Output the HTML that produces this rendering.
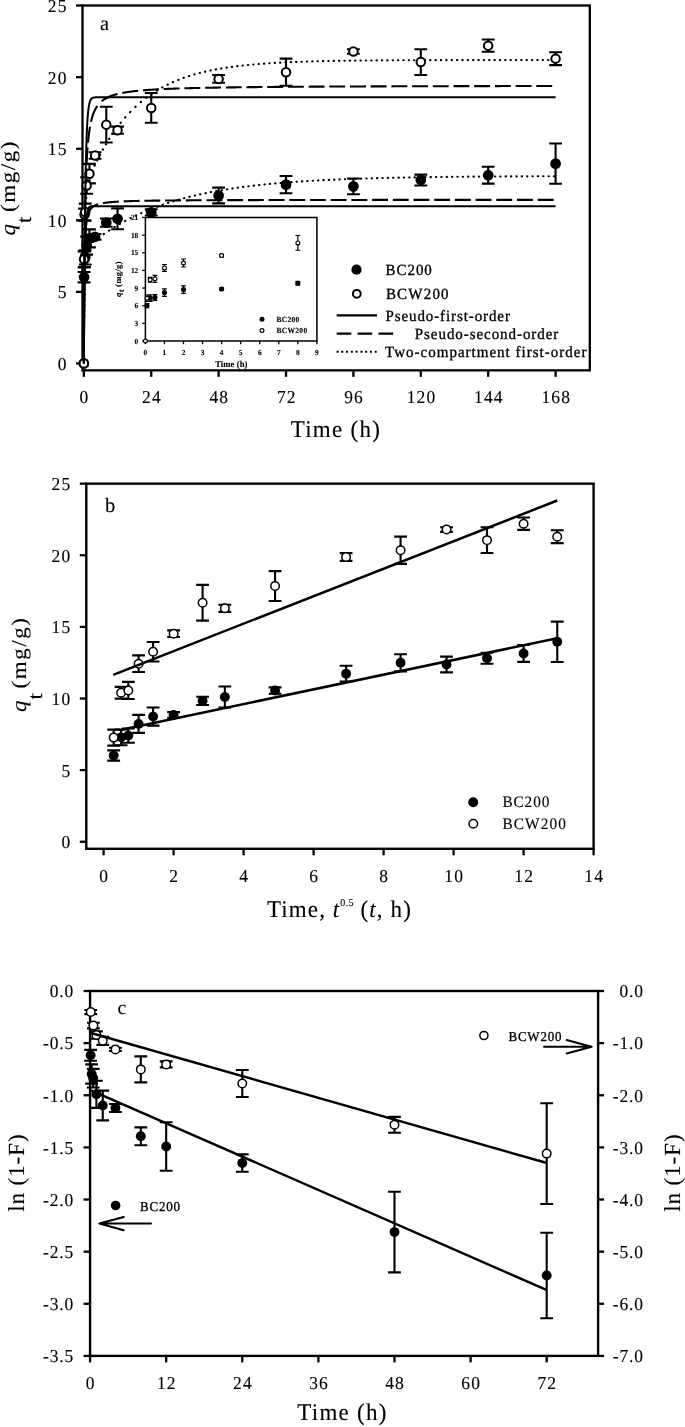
<!DOCTYPE html>
<html lang="en">
<head>
<meta charset="utf-8">
<title>Sorption kinetics of BC200 and BCW200</title>
<style>
html,body{margin:0;padding:0;background:#fff;}
body{width:685px;height:1427px;overflow:hidden;}
svg{display:block;will-change:transform;font-family:"Liberation Serif","Times New Roman",Times,serif;}
svg text{fill:#000;stroke:#000;stroke-width:0.12px;stroke-linejoin:round;}
#inset text{stroke-width:0.1px;}
svg text.hv{stroke-width:0.32px;}
</style>
</head>
<body>
<svg width="685" height="1427" viewBox="0 0 685 1427" stroke="#000" stroke-linecap="butt" text-rendering="geometricPrecision">
<rect x="0" y="0" width="685" height="1427" fill="#fff" stroke="none"/>
<g id="panel-a">
<rect x="82.5" y="5.5" width="507.3" height="364.85" fill="none" stroke-width="2.3"/>
<line x1="76" y1="363.4" x2="82.5" y2="363.4" stroke-width="2.3" />
<text transform="translate(67.5 369.8) scale(1 1.04)" font-size="17.5" text-anchor="end" letter-spacing="1.1" >0</text>
<line x1="76" y1="291.85" x2="82.5" y2="291.85" stroke-width="2.3" />
<text transform="translate(67.5 298.25) scale(1 1.04)" font-size="17.5" text-anchor="end" letter-spacing="1.1" >5</text>
<line x1="76" y1="220.3" x2="82.5" y2="220.3" stroke-width="2.3" />
<text transform="translate(67.5 226.7) scale(1 1.04)" font-size="17.5" text-anchor="end" letter-spacing="1.1" >10</text>
<line x1="76" y1="148.75" x2="82.5" y2="148.75" stroke-width="2.3" />
<text transform="translate(67.5 155.15) scale(1 1.04)" font-size="17.5" text-anchor="end" letter-spacing="1.1" >15</text>
<line x1="76" y1="77.2" x2="82.5" y2="77.2" stroke-width="2.3" />
<text transform="translate(67.5 83.6) scale(1 1.04)" font-size="17.5" text-anchor="end" letter-spacing="1.1" >20</text>
<line x1="76" y1="5.5" x2="82.5" y2="5.5" stroke-width="2.3" />
<text transform="translate(67.5 11.9) scale(1 1.04)" font-size="17.5" text-anchor="end" letter-spacing="1.1" >25</text>
<line x1="83.84" y1="370.35" x2="83.84" y2="376.85" stroke-width="2.3" />
<text transform="translate(84.54 403.3) scale(1 1.04)" font-size="17.5" text-anchor="middle" letter-spacing="1.1" >0</text>
<line x1="151.23" y1="370.35" x2="151.23" y2="376.85" stroke-width="2.3" />
<text transform="translate(151.93 403.3) scale(1 1.04)" font-size="17.5" text-anchor="middle" letter-spacing="1.1" >24</text>
<line x1="218.62" y1="370.35" x2="218.62" y2="376.85" stroke-width="2.3" />
<text transform="translate(219.32 403.3) scale(1 1.04)" font-size="17.5" text-anchor="middle" letter-spacing="1.1" >48</text>
<line x1="286.02" y1="370.35" x2="286.02" y2="376.85" stroke-width="2.3" />
<text transform="translate(286.72 403.3) scale(1 1.04)" font-size="17.5" text-anchor="middle" letter-spacing="1.1" >72</text>
<line x1="353.41" y1="370.35" x2="353.41" y2="376.85" stroke-width="2.3" />
<text transform="translate(354.11 403.3) scale(1 1.04)" font-size="17.5" text-anchor="middle" letter-spacing="1.1" >96</text>
<line x1="420.8" y1="370.35" x2="420.8" y2="376.85" stroke-width="2.3" />
<text transform="translate(421.5 403.3) scale(1 1.04)" font-size="17.5" text-anchor="middle" letter-spacing="1.1" >120</text>
<line x1="488.19" y1="370.35" x2="488.19" y2="376.85" stroke-width="2.3" />
<text transform="translate(488.89 403.3) scale(1 1.04)" font-size="17.5" text-anchor="middle" letter-spacing="1.1" >144</text>
<line x1="555.58" y1="370.35" x2="555.58" y2="376.85" stroke-width="2.3" />
<text transform="translate(556.28 403.3) scale(1 1.04)" font-size="17.5" text-anchor="middle" letter-spacing="1.1" >168</text>
<text transform="translate(290.7 436.7) scale(1 1.04)" font-size="23" textLength="89.2" lengthAdjust="spacing" >Time (h)</text>
<text x="99.9" y="29.8" font-size="20.3">a</text>
<path d="M83.87 358.71L83.87 358.41M83.9 353.35L83.9 353.05M83.93 347.99L83.93 347.69M83.96 342.63L83.96 342.33M83.99 337.27L83.99 336.97M84.03 331.91L84.03 331.61M84.06 326.55L84.06 326.25M84.1 321.19L84.1 320.89M84.14 315.83L84.14 315.53M84.18 310.47L84.18 310.17M84.22 305.11L84.22 304.81M84.26 299.75L84.26 299.45M84.31 294.39L84.31 294.09M84.36 289.03L84.36 288.73M84.41 283.67L84.41 283.37M84.46 278.31L84.46 278.01M84.52 272.95L84.52 272.65M84.58 267.59L84.58 267.29M84.64 262.23L84.64 261.93M84.71 256.87L84.71 256.57M84.78 251.51L84.79 251.21M84.86 246.15L84.87 245.85M84.95 240.79L84.95 240.49M85.05 235.43L85.05 235.13M85.15 230.07L85.16 229.77M85.27 224.71L85.28 224.41M85.4 219.35L85.41 219.05M85.56 213.99L85.57 213.69M85.74 208.63L85.76 208.33M85.97 203.27L85.98 202.97M86.25 197.91L86.27 197.61M86.64 192.55L86.66 192.25M87.21 187.19L87.25 186.89M88.17 181.83L88.24 181.53M89.84 176.47L89.96 176.17M92.1 171.11L92.23 170.81M94.57 165.75L94.71 165.45M97.17 160.39L97.32 160.09M99.93 155.03L100.09 154.73M102.84 149.67L103.01 149.37M105.93 144.31L106.11 144.01M109.23 138.95L109.42 138.65M112.75 133.59L112.96 133.29M116.55 128.23L116.77 127.93M120.65 122.87L120.89 122.57M125.12 117.51L125.38 117.21M130.03 112.15L130.32 111.85M135.35 106.9L135.65 106.62M140.71 102.15L141.01 101.9M146.07 97.88L146.37 97.65M151.43 94.04L151.73 93.84M156.79 90.59L157.09 90.41M162.15 87.49L162.45 87.33M167.51 84.71L167.81 84.56M172.87 82.21L173.17 82.08M178.23 79.96L178.53 79.84M183.59 77.94L183.89 77.83M188.95 76.12L189.25 76.03M194.31 74.49L194.61 74.41M199.67 73.02L199.97 72.95M205.03 71.71L205.33 71.64M210.39 70.52L210.69 70.46M215.75 69.46L216.05 69.4M221.11 68.5L221.41 68.45M226.47 67.64L226.77 67.6M231.83 66.87L232.13 66.83M237.19 66.18L237.49 66.14M242.55 65.55L242.85 65.52M247.91 64.99L248.21 64.96M253.27 64.49L253.57 64.46M258.63 64.04L258.93 64.01M263.99 63.63L264.29 63.61M269.35 63.27L269.65 63.25M274.71 62.94L275.01 62.92M280.07 62.64L280.37 62.63M285.43 62.38L285.73 62.36M290.79 62.14L291.09 62.13M296.15 61.93L296.45 61.91M301.51 61.73L301.81 61.72M306.87 61.56L307.17 61.55M312.23 61.41L312.53 61.4M317.59 61.27L317.89 61.26M322.95 61.14L323.25 61.13M328.31 61.03L328.61 61.02M333.67 60.93L333.97 60.92M339.03 60.83L339.33 60.83M344.39 60.75L344.69 60.75M349.75 60.68L350.05 60.68M355.11 60.61L355.41 60.61M360.47 60.55L360.77 60.55M365.83 60.5L366.13 60.5M371.19 60.45L371.49 60.45M376.55 60.41L376.85 60.41M381.91 60.37L382.21 60.37M387.27 60.34L387.57 60.33M392.63 60.31L392.93 60.3M397.99 60.28L398.29 60.28M403.35 60.25L403.65 60.25M408.71 60.23L409.01 60.23M414.07 60.21L414.37 60.21M419.43 60.19L419.73 60.19M424.79 60.17L425.09 60.17M430.15 60.16L430.45 60.16M435.51 60.15L435.81 60.15M440.87 60.13L441.17 60.13M446.23 60.12L446.53 60.12M451.59 60.11L451.89 60.11M456.95 60.1L457.25 60.1M462.31 60.1L462.61 60.1M467.67 60.09L467.97 60.09M473.03 60.08L473.33 60.08M478.39 60.08L478.69 60.08M483.75 60.07L484.05 60.07M489.11 60.07L489.41 60.07M494.47 60.06L494.77 60.06M499.83 60.06L500.13 60.06M505.19 60.06L505.49 60.06M510.55 60.05L510.85 60.05M515.91 60.05L516.21 60.05M521.27 60.05L521.57 60.05M526.63 60.05L526.93 60.05M531.99 60.05L532.29 60.05M537.35 60.04L537.65 60.04M542.71 60.04L543.01 60.04M548.07 60.04L548.37 60.04M553.43 60.04L553.73 60.04" fill="none" stroke-width="2.15" stroke-linecap="round"/>
<path d="M83.86 359.13L83.86 358.83M83.89 353.77L83.89 353.47M83.92 348.41L83.92 348.11M83.95 343.05L83.95 342.75M83.98 337.69L83.98 337.39M84.02 332.33L84.02 332.03M84.06 326.97L84.06 326.67M84.1 321.61L84.1 321.31M84.14 316.25L84.14 315.95M84.18 310.89L84.19 310.59M84.24 305.53L84.24 305.23M84.29 300.17L84.29 299.87M84.35 294.81L84.36 294.51M84.42 289.45L84.43 289.15M84.5 284.09L84.51 283.79M84.59 278.73L84.6 278.43M84.7 273.37L84.71 273.07M84.84 268.01L84.85 267.71M85.01 262.65L85.03 262.35M85.27 257.29L85.29 256.99M85.73 251.93L85.77 251.63M87.57 246.57L87.86 246.27M92.92 242.07L93.22 241.83M98.28 237.97L98.58 237.75M103.64 234.13L103.94 233.92M109 230.53L109.3 230.33M114.36 227.14L114.66 226.96M119.72 223.97L120.02 223.8M125.08 221L125.38 220.84M130.44 218.21L130.74 218.06M135.8 215.59L136.1 215.45M141.16 213.13L141.46 213M146.52 210.83L146.82 210.7M151.88 208.67L152.18 208.55M157.24 206.64L157.54 206.53M162.6 204.74L162.9 204.63M167.96 202.95L168.26 202.86M173.32 201.28L173.62 201.19M178.68 199.71L178.98 199.63M184.04 198.24L184.34 198.16M189.4 196.86L189.7 196.78M194.76 195.56L195.06 195.49M200.12 194.35L200.42 194.28M205.48 193.21L205.78 193.14M210.84 192.14L211.14 192.08M216.2 191.13L216.5 191.08M221.56 190.19L221.86 190.14M226.92 189.31L227.22 189.26M232.28 188.48L232.58 188.44M237.64 187.7L237.94 187.66M243 186.97L243.3 186.94M248.36 186.29L248.66 186.25M253.72 185.65L254.02 185.62M259.08 185.05L259.38 185.02M264.44 184.48L264.74 184.45M269.8 183.95L270.1 183.93M275.16 183.46L275.46 183.43M280.52 182.99L280.82 182.97M285.88 182.56L286.18 182.53M291.24 182.15L291.54 182.12M296.6 181.76L296.9 181.74M301.96 181.4L302.26 181.38M307.32 181.06L307.62 181.04M312.68 180.74L312.98 180.73M318.04 180.45L318.34 180.43M323.4 180.17L323.7 180.15M328.76 179.91L329.06 179.89M334.12 179.66L334.42 179.65M339.48 179.43L339.78 179.42M344.84 179.21L345.14 179.2M350.2 179.01L350.5 179M355.56 178.82L355.86 178.81M360.92 178.64L361.22 178.63M366.28 178.47L366.58 178.47M371.64 178.32L371.94 178.31M377 178.17L377.3 178.16M382.36 178.03L382.66 178.02M387.72 177.9L388.02 177.9M393.08 177.78L393.38 177.77M398.44 177.67L398.74 177.66M403.8 177.56L404.1 177.55M409.16 177.46L409.46 177.45M414.52 177.37L414.82 177.36M419.88 177.28L420.18 177.27M425.24 177.19L425.54 177.19M430.6 177.12L430.9 177.11M435.96 177.04L436.26 177.04M441.32 176.97L441.62 176.97M446.68 176.91L446.98 176.91M452.04 176.85L452.34 176.85M457.4 176.79L457.7 176.79M462.76 176.74L463.06 176.74M468.12 176.69L468.42 176.69M473.48 176.64L473.78 176.64M478.84 176.6L479.14 176.6M484.2 176.56L484.5 176.56M489.56 176.52L489.86 176.52M494.92 176.49L495.22 176.48M500.28 176.45L500.58 176.45M505.64 176.42L505.94 176.42M511 176.39L511.3 176.39M516.36 176.36L516.66 176.36M521.72 176.34L522.02 176.33M527.08 176.31L527.38 176.31M532.44 176.29L532.74 176.29M537.8 176.27L538.1 176.27M543.16 176.25L543.46 176.25M548.52 176.23L548.82 176.23M553.88 176.21L554.18 176.21" fill="none" stroke-width="2.15" stroke-linecap="round"/>
<path d="M84.07 272.07V282.37M77.67 272.07H90.47M77.67 282.37H90.47" stroke-width="2.1" fill="none"/>
<path d="M84.54 251.21V266.95M78.14 251.21H90.94M78.14 266.95H90.94" stroke-width="2.1" fill="none"/>
<path d="M85.24 250.21V264.52M78.84 250.21H91.64M78.84 264.52H91.64" stroke-width="2.1" fill="none"/>
<path d="M86.65 236.63V254.66M80.25 236.63H93.05M80.25 254.66H93.05" stroke-width="2.1" fill="none"/>
<path d="M89.46 229.35V247.38M83.06 229.35H95.86M83.06 247.38H95.86" stroke-width="2.1" fill="none"/>
<path d="M95.07 233.93V239.65M88.67 233.93H101.47M88.67 239.65H101.47" stroke-width="2.1" fill="none"/>
<path d="M106.3 218.5V226.8M99.9 218.5H112.7M99.9 226.8H112.7" stroke-width="2.1" fill="none"/>
<path d="M117.54 208.34V229.24M111.14 208.34H123.94M111.14 229.24H123.94" stroke-width="2.1" fill="none"/>
<path d="M151.23 209.21V215.51M144.83 209.21H157.63M144.83 215.51H157.63" stroke-width="2.1" fill="none"/>
<path d="M218.62 187.63V203.37M212.22 187.63H225.02M212.22 203.37H225.02" stroke-width="2.1" fill="none"/>
<path d="M286.02 176.06V193.23M279.62 176.06H292.42M279.62 193.23H292.42" stroke-width="2.1" fill="none"/>
<path d="M353.41 178.49V194.23M347.01 178.49H359.81M347.01 194.23H359.81" stroke-width="2.1" fill="none"/>
<path d="M420.8 174.64V185.51M414.4 174.64H427.2M414.4 185.51H427.2" stroke-width="2.1" fill="none"/>
<path d="M488.19 166.78V183.66M481.79 166.78H494.59M481.79 183.66H494.59" stroke-width="2.1" fill="none"/>
<path d="M555.58 143.47V183.82M549.18 143.47H561.98M549.18 183.82H561.98" stroke-width="2.1" fill="none"/>
<path d="M84.07 251.35V267.38M77.67 251.35H90.47M77.67 267.38H90.47" stroke-width="2.1" fill="none"/>
<path d="M84.54 208.64V220.37M78.14 208.64H90.94M78.14 220.37H90.94" stroke-width="2.1" fill="none"/>
<path d="M85.24 203.63V220.8M78.84 203.63H91.64M78.84 220.8H91.64" stroke-width="2.1" fill="none"/>
<path d="M86.65 177.2V193.8M80.25 177.2H93.05M80.25 193.8H93.05" stroke-width="2.1" fill="none"/>
<path d="M89.46 163.92V183.38M83.06 163.92H95.86M83.06 183.38H95.86" stroke-width="2.1" fill="none"/>
<path d="M95.07 152.21V158.79M88.67 152.21H101.47M88.67 158.79H101.47" stroke-width="2.1" fill="none"/>
<path d="M106.3 106.76V142.53M99.9 106.76H112.7M99.9 142.53H112.7" stroke-width="2.1" fill="none"/>
<path d="M117.54 126.64V133.79M111.14 126.64H123.94M111.14 133.79H123.94" stroke-width="2.1" fill="none"/>
<path d="M151.23 93.05V122.81M144.83 93.05H157.63M144.83 122.81H157.63" stroke-width="2.1" fill="none"/>
<path d="M218.62 75.07V82.79M212.22 75.07H225.02M212.22 82.79H225.02" stroke-width="2.1" fill="none"/>
<path d="M286.02 58.62V85.81M279.62 58.62H292.42M279.62 85.81H292.42" stroke-width="2.1" fill="none"/>
<path d="M353.41 49.21V53.79M347.01 49.21H359.81M347.01 53.79H359.81" stroke-width="2.1" fill="none"/>
<path d="M420.8 49.19V74.95M414.4 49.19H427.2M414.4 74.95H427.2" stroke-width="2.1" fill="none"/>
<path d="M488.19 39.49V51.8M481.79 39.49H494.59M481.79 51.8H494.59" stroke-width="2.1" fill="none"/>
<path d="M555.58 52.2V65.08M549.18 52.2H561.98M549.18 65.08H561.98" stroke-width="2.1" fill="none"/>
<circle cx="84.07" cy="277.22" r="5.35" fill="#000" stroke="none"/>
<circle cx="84.54" cy="259.08" r="5.35" fill="#000" stroke="none"/>
<circle cx="85.24" cy="257.36" r="5.35" fill="#000" stroke="none"/>
<circle cx="86.65" cy="245.65" r="5.35" fill="#000" stroke="none"/>
<circle cx="89.46" cy="238.36" r="5.35" fill="#000" stroke="none"/>
<circle cx="95.07" cy="236.79" r="5.35" fill="#000" stroke="none"/>
<circle cx="106.3" cy="222.65" r="5.35" fill="#000" stroke="none"/>
<circle cx="117.54" cy="218.79" r="5.35" fill="#000" stroke="none"/>
<circle cx="151.23" cy="212.36" r="5.35" fill="#000" stroke="none"/>
<circle cx="218.62" cy="195.5" r="5.35" fill="#000" stroke="none"/>
<circle cx="286.02" cy="184.65" r="5.35" fill="#000" stroke="none"/>
<circle cx="353.41" cy="186.36" r="5.35" fill="#000" stroke="none"/>
<circle cx="420.8" cy="180.08" r="5.35" fill="#000" stroke="none"/>
<circle cx="488.19" cy="175.22" r="5.35" fill="#000" stroke="none"/>
<circle cx="555.58" cy="163.65" r="5.35" fill="#000" stroke="none"/>
<circle cx="84.07" cy="259.36" r="4.25" fill="#fff" stroke-width="2"/>
<circle cx="84.54" cy="214.5" r="4.25" fill="#fff" stroke-width="2"/>
<circle cx="85.24" cy="212.22" r="4.25" fill="#fff" stroke-width="2"/>
<circle cx="86.65" cy="185.5" r="4.25" fill="#fff" stroke-width="2"/>
<circle cx="89.46" cy="173.65" r="4.25" fill="#fff" stroke-width="2"/>
<circle cx="95.07" cy="155.5" r="4.25" fill="#fff" stroke-width="2"/>
<circle cx="106.3" cy="124.65" r="4.25" fill="#fff" stroke-width="2"/>
<circle cx="117.54" cy="130.22" r="4.25" fill="#fff" stroke-width="2"/>
<circle cx="151.23" cy="107.93" r="4.25" fill="#fff" stroke-width="2"/>
<circle cx="218.62" cy="78.93" r="4.25" fill="#fff" stroke-width="2"/>
<circle cx="286.02" cy="72.22" r="4.25" fill="#fff" stroke-width="2"/>
<circle cx="353.41" cy="51.5" r="4.25" fill="#fff" stroke-width="2"/>
<circle cx="420.8" cy="62.07" r="4.25" fill="#fff" stroke-width="2"/>
<circle cx="488.19" cy="45.64" r="4.25" fill="#fff" stroke-width="2"/>
<circle cx="555.58" cy="58.64" r="4.25" fill="#fff" stroke-width="2"/>
<circle cx="83.84" cy="363.4" r="5.35" fill="#000" stroke="none"/>
<circle cx="83.84" cy="363.4" r="4.25" fill="#fff" stroke-width="2"/>
<path d="M83.84 363.4L83.84 362.79L83.85 362.13L83.85 361.41L83.85 360.8L83.86 360.08L83.86 359.47L83.87 358.78L83.87 358.02L83.87 357.18L83.88 356.58L83.88 355.94L83.89 355.26L83.89 354.54L83.89 353.79L83.9 352.99L83.9 352.15L83.91 351.27L83.91 350.35L83.92 349.39L83.93 348.38L83.93 347.33L83.94 346.23L83.95 345.09L83.95 343.9L83.96 343.29L83.96 342.67L83.96 342.03L83.97 341.39L83.97 340.73L83.98 340.06L83.98 339.38L83.98 338.69L83.99 337.98L83.99 337.27L84 336.54L84 335.8L84.01 335.05L84.01 334.28L84.02 333.5L84.02 332.72L84.03 331.92L84.03 331.11L84.04 330.28L84.04 329.45L84.05 328.6L84.05 327.74L84.06 326.87L84.06 325.99L84.07 325.09L84.08 324.19L84.08 323.27L84.09 322.34L84.09 321.4L84.1 320.45L84.11 319.48L84.11 318.51L84.12 317.52L84.13 316.52L84.13 315.51L84.14 314.49L84.15 313.46L84.15 312.42L84.16 311.37L84.17 310.3L84.18 309.23L84.18 308.14L84.19 307.05L84.2 305.94L84.21 304.82L84.22 303.7L84.22 302.56L84.23 301.41L84.24 300.26L84.25 299.09L84.26 297.91L84.27 296.73L84.28 295.53L84.28 294.33L84.29 293.12L84.3 291.9L84.31 290.66L84.32 289.43L84.33 288.18L84.34 286.92L84.35 285.66L84.36 284.39L84.37 283.11L84.38 281.82L84.39 280.53L84.4 279.22L84.41 277.91L84.42 276.6L84.43 275.28L84.45 273.95L84.46 272.61L84.47 271.27L84.48 269.92L84.49 268.57L84.5 267.21L84.51 265.85L84.53 264.48L84.54 263.11L84.55 261.73L84.56 260.34L84.58 258.96L84.59 257.57L84.6 256.17L84.62 254.77L84.63 253.37L84.64 251.96L84.66 250.56L84.67 249.15L84.68 247.73L84.7 246.32L84.71 244.9L84.73 243.48L84.74 242.06L84.75 240.64L84.77 239.21L84.78 237.79L84.8 236.36L84.81 234.94L84.83 233.51L84.84 232.09L84.86 230.66L84.88 229.24L84.89 227.81L84.91 226.39L84.92 224.97L84.94 223.55L84.96 222.13L84.98 220.72L84.99 219.3L85.01 217.89L85.03 216.48L85.04 215.07L85.06 213.67L85.08 212.27L85.1 210.87L85.12 209.48L85.13 208.09L85.15 206.71L85.17 205.32L85.19 203.95L85.21 202.58L85.23 201.21L85.25 199.85L85.27 198.49L85.29 197.14L85.31 195.8L85.33 194.46L85.35 193.13L85.37 191.8L85.39 190.48L85.41 189.17L85.43 187.87L85.45 186.57L85.47 185.28L85.5 183.99L85.52 182.72L85.54 181.45L85.56 180.19L85.59 178.94L85.61 177.7L85.63 176.46L85.65 175.23L85.68 174.02L85.7 172.81L85.72 171.61L85.75 170.42L85.77 169.23L85.8 168.06L85.82 166.9L85.85 165.75L85.87 164.6L85.9 163.47L85.92 162.35L85.95 161.24L85.97 160.13L86 159.04L86.02 157.96L86.05 156.89L86.08 155.83L86.1 154.78L86.13 153.74L86.16 152.71L86.19 151.69L86.21 150.68L86.24 149.69L86.27 148.7L86.3 147.73L86.33 146.76L86.35 145.81L86.38 144.87L86.41 143.94L86.44 143.02L86.47 142.12L86.5 141.22L86.53 140.34L86.56 139.46L86.59 138.6L86.62 137.75L86.65 136.91L86.68 136.09L86.72 135.27L86.75 134.47L86.78 133.67L86.81 132.89L86.84 132.12L86.88 131.36L86.91 130.61L86.94 129.88L86.97 129.15L87.01 128.44L87.04 127.73L87.08 127.04L87.11 126.36L87.14 125.69L87.18 125.03L87.21 124.38L87.25 123.74L87.28 123.12L87.32 122.5L87.36 121.89L87.39 121.3L87.43 120.71L87.46 120.14L87.5 119.57L87.58 118.48L87.65 117.42L87.73 116.4L87.81 115.42L87.88 114.48L87.96 113.58L88.04 112.71L88.13 111.88L88.21 111.08L88.29 110.32L88.38 109.59L88.46 108.89L88.55 108.22L88.64 107.59L88.73 106.98L88.82 106.41L88.91 105.86L89 105.33L89.14 104.6L89.29 103.92L89.43 103.29L89.58 102.71L89.73 102.18L89.88 101.69L90.04 101.24L90.25 100.71L90.47 100.23L90.69 99.81L90.98 99.36L91.27 98.98L91.57 98.66L91.94 98.34L92.32 98.09L92.79 97.86L93.26 97.69L93.76 97.56L94.27 97.46L94.88 97.39L95.5 97.33L96.07 97.3L96.66 97.28L97.27 97.26L97.89 97.25L98.54 97.25L99.2 97.24L99.89 97.24L100.49 97.24L101.1 97.24L101.73 97.24L102.38 97.23L103.04 97.23L103.72 97.23L104.41 97.23L105.12 97.23L105.73 97.23L106.34 97.23L106.97 97.23L107.61 97.23L108.26 97.23L108.92 97.23L109.59 97.23L110.27 97.23L110.97 97.23L111.68 97.23L112.4 97.23L113.13 97.23L113.88 97.23L114.49 97.23L115.1 97.23L115.72 97.23L116.35 97.23L116.99 97.23L117.64 97.23L118.29 97.23L118.96 97.23L119.63 97.23L120.31 97.23L121 97.23L121.7 97.23L122.4 97.23L123.12 97.23L123.84 97.23L124.58 97.23L125.32 97.23L126.07 97.23L126.83 97.23L127.6 97.23L128.37 97.23L129.16 97.23L129.96 97.23L130.56 97.23L131.17 97.23L131.78 97.23L132.4 97.23L133.03 97.23L133.66 97.23L134.29 97.23L134.93 97.23L135.58 97.23L136.23 97.23L136.89 97.23L137.55 97.23L138.22 97.23L138.89 97.23L139.57 97.23L140.25 97.23L140.94 97.23L141.64 97.23L142.34 97.23L143.04 97.23L143.76 97.23L144.47 97.23L145.2 97.23L145.93 97.23L146.66 97.23L147.4 97.23L148.15 97.23L148.9 97.23L149.66 97.23L150.43 97.23L151.2 97.23L151.97 97.23L152.76 97.23L153.54 97.23L154.34 97.23L155.14 97.23L155.94 97.23L156.76 97.23L157.57 97.23L158.4 97.23L159.23 97.23L160.07 97.23L160.91 97.23L161.76 97.23L162.61 97.23L163.47 97.23L164.34 97.23L165.22 97.23L166.1 97.23L166.98 97.23L167.87 97.23L168.77 97.23L169.38 97.23L169.98 97.23L170.59 97.23L171.2 97.23L171.82 97.23L172.44 97.23L173.06 97.23L173.68 97.23L174.31 97.23L174.93 97.23L175.57 97.23L176.2 97.23L176.84 97.23L177.48 97.23L178.12 97.23L178.77 97.23L179.42 97.23L180.07 97.23L180.73 97.23L181.38 97.23L182.05 97.23L182.71 97.23L183.38 97.23L184.05 97.23L184.72 97.23L185.4 97.23L186.08 97.23L186.76 97.23L187.44 97.23L188.13 97.23L188.82 97.23L189.52 97.23L190.22 97.23L190.92 97.23L191.62 97.23L192.33 97.23L193.04 97.23L193.75 97.23L194.47 97.23L195.19 97.23L195.91 97.23L196.63 97.23L197.36 97.23L198.09 97.23L198.83 97.23L199.57 97.23L200.31 97.23L201.05 97.23L201.8 97.23L202.55 97.23L203.3 97.23L204.06 97.23L204.82 97.23L205.58 97.23L206.35 97.23L207.12 97.23L207.89 97.23L208.67 97.23L209.45 97.23L210.23 97.23L211.02 97.23L211.8 97.23L212.6 97.23L213.39 97.23L214.19 97.23L214.99 97.23L215.8 97.23L216.61 97.23L217.42 97.23L218.24 97.23L219.05 97.23L219.88 97.23L220.7 97.23L221.53 97.23L222.36 97.23L223.2 97.23L224.04 97.23L224.88 97.23L225.72 97.23L226.57 97.23L227.42 97.23L228.28 97.23L229.14 97.23L230 97.23L230.87 97.23L231.74 97.23L232.61 97.23L233.48 97.23L234.36 97.23L235.25 97.23L236.13 97.23L237.02 97.23L237.92 97.23L238.81 97.23L239.71 97.23L240.62 97.23L241.52 97.23L242.43 97.23L243.35 97.23L244.27 97.23L245.19 97.23L246.11 97.23L247.04 97.23L247.97 97.23L248.91 97.23L249.84 97.23L250.79 97.23L251.73 97.23L252.68 97.23L253.64 97.23L254.59 97.23L255.55 97.23L256.52 97.23L257.48 97.23L258.45 97.23L259.43 97.23L260.41 97.23L261.39 97.23L262.37 97.23L263.36 97.23L264.36 97.23L265.35 97.23L266.35 97.23L267.36 97.23L268.36 97.23L269.37 97.23L270.39 97.23L271.41 97.23L272.43 97.23L273.46 97.23L274.49 97.23L275.52 97.23L276.56 97.23L277.6 97.23L278.64 97.23L279.69 97.23L280.74 97.23L281.8 97.23L282.86 97.23L283.92 97.23L284.99 97.23L286.06 97.23L287.13 97.23L288.21 97.23L289.29 97.23L290.38 97.23L291.47 97.23L292.56 97.23L293.66 97.23L294.76 97.23L295.87 97.23L296.98 97.23L298.09 97.23L299.21 97.23L300.33 97.23L301.45 97.23L302.58 97.23L303.71 97.23L304.85 97.23L305.99 97.23L307.13 97.23L308.28 97.23L309.43 97.23L310.59 97.23L311.75 97.23L312.91 97.23L314.08 97.23L315.25 97.23L316.43 97.23L317.61 97.23L318.79 97.23L319.98 97.23L321.17 97.23L322.37 97.23L323.57 97.23L324.17 97.23L324.77 97.23L325.37 97.23L325.98 97.23L326.58 97.23L327.19 97.23L327.8 97.23L328.4 97.23L329.01 97.23L329.62 97.23L330.24 97.23L330.85 97.23L331.46 97.23L332.08 97.23L332.69 97.23L333.31 97.23L333.93 97.23L334.54 97.23L335.16 97.23L335.78 97.23L336.41 97.23L337.03 97.23L337.65 97.23L338.28 97.23L338.9 97.23L339.53 97.23L340.16 97.23L340.79 97.23L341.42 97.23L342.05 97.23L342.68 97.23L343.31 97.23L343.94 97.23L344.58 97.23L345.22 97.23L345.85 97.23L346.49 97.23L347.13 97.23L347.77 97.23L348.41 97.23L349.05 97.23L349.7 97.23L350.34 97.23L350.99 97.23L351.63 97.23L352.28 97.23L352.93 97.23L353.58 97.23L354.23 97.23L354.88 97.23L355.53 97.23L356.19 97.23L356.84 97.23L357.5 97.23L358.15 97.23L358.81 97.23L359.47 97.23L360.13 97.23L360.79 97.23L361.45 97.23L362.12 97.23L362.78 97.23L363.44 97.23L364.11 97.23L364.78 97.23L365.45 97.23L366.12 97.23L366.79 97.23L367.46 97.23L368.13 97.23L368.8 97.23L369.48 97.23L370.15 97.23L370.83 97.23L371.51 97.23L372.19 97.23L372.87 97.23L373.55 97.23L374.23 97.23L374.92 97.23L375.6 97.23L376.29 97.23L376.97 97.23L377.66 97.23L378.35 97.23L379.04 97.23L379.73 97.23L380.42 97.23L381.11 97.23L381.81 97.23L382.5 97.23L383.2 97.23L383.9 97.23L384.59 97.23L385.29 97.23L385.99 97.23L386.7 97.23L387.4 97.23L388.1 97.23L388.81 97.23L389.51 97.23L390.22 97.23L390.93 97.23L391.64 97.23L392.35 97.23L393.06 97.23L393.77 97.23L394.48 97.23L395.2 97.23L395.92 97.23L396.63 97.23L397.35 97.23L398.07 97.23L398.79 97.23L399.51 97.23L400.23 97.23L400.96 97.23L401.68 97.23L402.41 97.23L403.13 97.23L403.86 97.23L404.59 97.23L405.32 97.23L406.05 97.23L406.78 97.23L407.52 97.23L408.25 97.23L408.99 97.23L409.72 97.23L410.46 97.23L411.2 97.23L411.94 97.23L412.68 97.23L413.42 97.23L414.17 97.23L414.91 97.23L415.66 97.23L416.4 97.23L417.15 97.23L417.9 97.23L418.65 97.23L419.4 97.23L420.16 97.23L420.91 97.23L421.66 97.23L422.42 97.23L423.18 97.23L423.93 97.23L424.69 97.23L425.45 97.23L426.22 97.23L426.98 97.23L427.74 97.23L428.51 97.23L429.27 97.23L430.04 97.23L430.81 97.23L431.58 97.23L432.35 97.23L433.12 97.23L433.89 97.23L434.67 97.23L435.44 97.23L436.22 97.23L436.99 97.23L437.77 97.23L438.55 97.23L439.33 97.23L440.11 97.23L440.9 97.23L441.68 97.23L442.47 97.23L443.25 97.23L444.04 97.23L444.83 97.23L445.62 97.23L446.41 97.23L447.2 97.23L448 97.23L448.79 97.23L449.59 97.23L450.38 97.23L451.18 97.23L451.98 97.23L452.78 97.23L453.58 97.23L454.38 97.23L455.19 97.23L455.99 97.23L456.8 97.23L457.61 97.23L458.42 97.23L459.23 97.23L460.04 97.23L460.85 97.23L461.66 97.23L462.48 97.23L463.29 97.23L464.11 97.23L464.92 97.23L465.74 97.23L466.56 97.23L467.39 97.23L468.21 97.23L469.03 97.23L469.86 97.23L470.68 97.23L471.51 97.23L472.34 97.23L473.17 97.23L474 97.23L474.83 97.23L475.66 97.23L476.5 97.23L477.33 97.23L478.17 97.23L479.01 97.23L479.85 97.23L480.69 97.23L481.53 97.23L482.37 97.23L483.21 97.23L484.06 97.23L484.91 97.23L485.75 97.23L486.6 97.23L487.45 97.23L488.3 97.23L489.15 97.23L490.01 97.23L490.86 97.23L491.72 97.23L492.57 97.23L493.43 97.23L494.29 97.23L495.15 97.23L496.01 97.23L496.88 97.23L497.74 97.23L498.61 97.23L499.47 97.23L500.34 97.23L501.21 97.23L502.08 97.23L502.95 97.23L503.82 97.23L504.7 97.23L505.57 97.23L506.45 97.23L507.33 97.23L508.2 97.23L509.08 97.23L509.96 97.23L510.85 97.23L511.73 97.23L512.61 97.23L513.5 97.23L514.39 97.23L515.28 97.23L516.17 97.23L517.06 97.23L517.95 97.23L518.84 97.23L519.74 97.23L520.63 97.23L521.53 97.23L522.43 97.23L523.33 97.23L524.23 97.23L525.13 97.23L526.03 97.23L526.94 97.23L527.84 97.23L528.75 97.23L529.66 97.23L530.57 97.23L531.48 97.23L532.39 97.23L533.3 97.23L534.21 97.23L535.13 97.23L536.05 97.23L536.96 97.23L537.88 97.23L538.8 97.23L539.73 97.23L540.65 97.23L541.57 97.23L542.5 97.23L543.42 97.23L544.35 97.23L545.28 97.23L546.21 97.23L547.14 97.23L548.08 97.23L549.01 97.23L549.95 97.23L550.88 97.23L551.82 97.23L552.76 97.23L553.7 97.23L554.64 97.23L555.58 97.23L555.58 97.23" fill="none" stroke-width="2"/>
<path d="M83.84 363.4L83.84 362.77L83.85 362.11L83.85 361.44L83.85 360.76L83.85 360.16L83.86 359.48L83.86 358.71L83.86 357.85L83.86 357.22L83.87 356.55L83.87 355.84L83.87 355.08L83.88 354.38M83.9 349.58L83.9 348.45L83.91 347.31L83.91 346.12L83.91 345.51L83.92 344.88L83.92 344.24L83.92 343.59L83.93 342.93L83.93 342.25L83.93 341.57L83.94 340.87L83.94 340.15L83.94 339.43L83.95 338.69L83.95 337.95L83.95 337.19L83.96 336.41L83.96 335.63L83.96 334.84L83.97 334.03L83.97 333.68M83.99 328.88L84 328.07L84 327.17L84.01 326.27L84.01 325.35L84.02 324.43L84.02 323.49L84.03 322.55L84.03 321.59L84.04 320.63L84.04 319.65L84.05 318.67L84.05 317.68L84.06 316.68L84.06 315.67L84.07 314.65L84.08 313.62L84.08 312.98M84.11 308.18L84.11 307.3L84.12 306.22L84.13 305.14L84.13 304.05L84.14 302.95L84.15 301.85L84.15 300.74L84.16 299.63L84.17 298.51L84.18 297.38L84.18 296.25L84.19 295.12L84.2 293.98L84.21 292.84L84.21 292.28M84.25 287.48L84.26 285.91L84.27 284.74L84.28 283.57L84.28 282.4L84.29 281.23L84.3 280.05L84.31 278.88L84.32 277.7L84.33 276.52L84.34 275.34L84.35 274.16L84.36 272.98L84.37 271.8L84.37 271.58M84.42 266.78L84.42 265.9L84.43 264.72L84.45 263.54L84.46 262.36L84.47 261.19L84.48 260.01L84.49 258.84L84.5 257.67L84.51 256.5L84.53 255.33L84.54 254.17L84.55 253.01L84.56 251.85L84.57 250.88M84.63 246.08L84.64 244.95L84.66 243.81L84.67 242.68L84.68 241.55L84.7 240.42L84.71 239.3L84.73 238.18L84.74 237.07L84.75 235.96L84.77 234.85L84.78 233.75L84.8 232.66L84.81 231.56L84.83 230.48L84.83 230.18M84.9 225.38L84.92 224.06L84.94 223.01L84.96 221.97L84.98 220.93L84.99 219.9L85.01 218.87L85.03 217.84L85.04 216.83L85.06 215.82L85.08 214.81L85.1 213.81L85.12 212.82L85.13 211.83L85.15 210.85L85.17 209.87L85.18 209.48M85.28 204.68L85.31 203.21L85.33 202.28L85.35 201.36L85.37 200.45L85.39 199.54L85.41 198.64L85.43 197.74L85.45 196.85L85.47 195.97L85.5 195.09L85.52 194.22L85.54 193.35L85.56 192.5L85.59 191.64L85.61 190.8L85.63 189.96L85.65 189.13L85.66 188.78M85.81 183.98L85.85 182.68L85.87 181.9L85.9 181.13L85.92 180.37L85.95 179.61L85.97 178.85L86 178.1L86.02 177.36L86.05 176.63L86.08 175.9L86.1 175.17L86.13 174.46L86.16 173.74L86.19 173.04L86.21 172.34L86.24 171.64L86.27 170.95L86.3 170.27L86.33 169.59L86.35 168.92L86.38 168.25L86.39 168.08M86.61 163.28L86.65 162.5L86.68 161.89L86.72 161.28L86.75 160.68L86.78 160.08L86.81 159.49L86.84 158.91L86.88 158.33L86.91 157.75L86.94 157.18L87.01 156.05L87.08 154.94L87.14 153.85L87.21 152.78L87.28 151.73L87.36 150.7L87.43 149.69L87.5 148.69L87.58 147.71L87.6 147.38M88.01 142.58L88.09 141.75L88.17 140.89L88.25 140.05L88.33 139.23L88.42 138.41L88.51 137.62L88.59 136.83L88.68 136.06L88.77 135.31L88.86 134.56L88.96 133.83L89.05 133.12L89.14 132.41L89.24 131.72L89.33 131.04L89.43 130.37L89.53 129.72L89.63 129.07L89.73 128.44L89.83 127.82L89.94 127.21L90.03 126.68M90.98 121.88L91.15 121.14L91.27 120.65L91.39 120.16L91.57 119.44L91.75 118.75L91.94 118.07L92.13 117.4L92.32 116.76L92.52 116.13L92.72 115.51L92.92 114.91L93.13 114.33L93.33 113.76L93.54 113.2L93.76 112.66L93.98 112.13L94.2 111.62L94.42 111.11L94.65 110.62L94.88 110.14L95.11 109.68L95.35 109.22L95.59 108.77L95.83 108.34L96.07 107.91L96.32 107.5L96.58 107.09L96.83 106.7L97.09 106.31L97.32 105.98M101.6 101.3L101.95 101.01L102.38 100.66L102.82 100.33L103.27 100L103.72 99.68L104.18 99.38L104.65 99.08L105.12 98.79L105.61 98.5L106.1 98.23L106.59 97.96L107.1 97.7L107.61 97.44L108.12 97.2L108.65 96.96L109.18 96.72L109.73 96.49L110.27 96.27L110.83 96.06L111.4 95.84L111.97 95.64L112.55 95.44L113.13 95.24L113.73 95.05L114.33 94.87L114.95 94.69L115.57 94.51L116.19 94.34L116.67 94.21L117.15 94.09L117.5 94M122.3 92.95L122.94 92.83L123.48 92.73L124.03 92.63L124.58 92.54L125.13 92.44L125.69 92.35L126.26 92.26L126.83 92.17L127.4 92.08L127.98 92L128.57 91.91L129.16 91.83L129.76 91.75L130.36 91.67L130.97 91.59L131.58 91.51L132.2 91.43L132.82 91.36L133.45 91.28L134.08 91.21L134.72 91.14L135.36 91.07L136.01 91L136.67 90.93L137.33 90.86L137.99 90.79L138.2 90.77M143 90.34L143.76 90.28L144.47 90.22L145.2 90.17L145.93 90.11L146.66 90.06L147.4 90L148.15 89.95L148.9 89.9L149.66 89.85L150.43 89.79L151.2 89.74L151.97 89.7L152.76 89.65L153.54 89.6L154.34 89.55L155.14 89.51L155.94 89.46L156.76 89.42L157.57 89.37L158.4 89.33L158.9 89.3M163.7 89.07L164.34 89.04L164.92 89.01L165.51 88.99L166.1 88.96L166.69 88.94L167.28 88.91L167.87 88.89L168.47 88.86L169.08 88.84L169.68 88.81L170.29 88.79L170.9 88.76L171.51 88.74L172.13 88.72L172.75 88.69L173.37 88.67L173.99 88.65L174.62 88.63L175.25 88.6L175.88 88.58L176.52 88.56L177.16 88.54L177.8 88.52L178.45 88.5L179.09 88.47L179.6 88.46M184.4 88.31L185.06 88.29L185.74 88.27L186.42 88.25L187.1 88.23L187.79 88.22L188.48 88.2L189.17 88.18L189.87 88.16L190.57 88.14L191.27 88.12L191.97 88.11L192.68 88.09L193.39 88.07L194.11 88.05L194.83 88.04L195.55 88.02L196.27 88L197 87.99L197.73 87.97L198.46 87.95L199.2 87.94L199.94 87.92L200.3 87.91M205.1 87.81L205.97 87.79L206.73 87.78L207.5 87.76L208.28 87.75L209.06 87.73L209.84 87.72L210.62 87.71L211.41 87.69L212.2 87.68L212.99 87.66L213.79 87.65L214.59 87.63L215.4 87.62L216.2 87.61L217.01 87.59L217.83 87.58L218.64 87.57L219.46 87.55L220.29 87.54L221 87.53M225.8 87.46L226.57 87.44L227.42 87.43L228.28 87.42L229.14 87.41L230 87.4L230.87 87.38L231.74 87.37L232.61 87.36L233.48 87.35L234.36 87.34L235.25 87.33L236.13 87.31L237.02 87.3L237.92 87.29L238.81 87.28L239.71 87.27L240.62 87.26L241.52 87.25L241.7 87.25M246.5 87.19L247.5 87.18L248.44 87.17L249.37 87.16L250.32 87.15L251.26 87.14L252.21 87.13L253.16 87.12L254.11 87.11L255.07 87.1L256.03 87.09L257 87.08L257.97 87.07L258.94 87.06L259.92 87.05L260.9 87.04L261.88 87.03L262.4 87.03M267.2 86.98L267.86 86.98L268.87 86.97L269.88 86.96L270.9 86.95L271.92 86.94L272.94 86.94L273.97 86.93L275 86.92L276.04 86.91L277.08 86.9L278.12 86.89L279.17 86.89L280.22 86.88L281.27 86.87L282.33 86.86L283.1 86.86M287.9 86.82L288.75 86.81L289.84 86.81L290.92 86.8L292.02 86.79L293.11 86.78L294.21 86.78L295.31 86.77L296.42 86.76L297.53 86.76L298.65 86.75L299.77 86.74L300.89 86.73L302.02 86.73L303.15 86.72L303.8 86.72M308.6 86.69L309.43 86.68L310.59 86.67L311.75 86.67L312.91 86.66L314.08 86.65L315.25 86.65L316.43 86.64L317.61 86.64L318.79 86.63L319.98 86.62L321.17 86.62L321.77 86.61L322.37 86.61L322.97 86.61L323.57 86.6L324.17 86.6L324.5 86.6M329.3 86.57L330.24 86.57L330.85 86.57L331.46 86.56L332.08 86.56L332.69 86.56L333.31 86.56L333.93 86.55L334.54 86.55L335.16 86.55L335.78 86.54L336.41 86.54L337.03 86.54L337.65 86.53L338.28 86.53L338.9 86.53L339.53 86.53L340.16 86.52L340.79 86.52L341.42 86.52L342.05 86.51L342.68 86.51L343.31 86.51L343.94 86.51L344.58 86.5L345.2 86.5M350 86.48L350.99 86.48L351.63 86.47L352.28 86.47L352.93 86.47L353.58 86.47L354.23 86.46L354.88 86.46L355.53 86.46L356.19 86.46L356.84 86.45L357.5 86.45L358.15 86.45L358.81 86.44L359.47 86.44L360.13 86.44L360.79 86.44L361.45 86.43L362.12 86.43L362.78 86.43L363.44 86.43L364.11 86.42L364.78 86.42L365.45 86.42L365.9 86.42M370.7 86.4L371.51 86.4L372.19 86.39L372.87 86.39L373.55 86.39L374.23 86.39L374.92 86.38L375.6 86.38L376.29 86.38L376.97 86.38L377.66 86.38L378.35 86.37L379.04 86.37L379.73 86.37L380.42 86.37L381.11 86.36L381.81 86.36L382.5 86.36L383.2 86.36L383.9 86.35L384.59 86.35L385.29 86.35L385.99 86.35L386.6 86.35M391.4 86.33L392.35 86.33L393.06 86.32L393.77 86.32L394.48 86.32L395.2 86.32L395.92 86.32L396.63 86.31L397.35 86.31L398.07 86.31L398.79 86.31L399.51 86.3L400.23 86.3L400.96 86.3L401.68 86.3L402.41 86.3L403.13 86.29L403.86 86.29L404.59 86.29L405.32 86.29L406.05 86.29L406.78 86.28L407.3 86.28M412.1 86.27L413.42 86.26L414.17 86.26L414.91 86.26L415.66 86.26L416.4 86.26L417.15 86.25L417.9 86.25L418.65 86.25L419.4 86.25L420.16 86.25L420.91 86.24L421.66 86.24L422.42 86.24L423.18 86.24L423.93 86.24L424.69 86.23L425.45 86.23L426.22 86.23L426.98 86.23L427.74 86.23L428 86.23M432.8 86.21L433.89 86.21L434.67 86.21L435.44 86.21L436.22 86.21L436.99 86.2L437.77 86.2L438.55 86.2L439.33 86.2L440.11 86.2L440.9 86.2L441.68 86.19L442.47 86.19L443.25 86.19L444.04 86.19L444.83 86.19L445.62 86.18L446.41 86.18L447.2 86.18L448 86.18L448.7 86.18M453.5 86.17L454.38 86.16L455.19 86.16L455.99 86.16L456.8 86.16L457.61 86.16L458.42 86.16L459.23 86.15L460.04 86.15L460.85 86.15L461.66 86.15L462.48 86.15L463.29 86.15L464.11 86.14L464.92 86.14L465.74 86.14L466.56 86.14L467.39 86.14L468.21 86.14L469.03 86.13L469.4 86.13M474.2 86.12L474.83 86.12L475.66 86.12L476.5 86.12L477.33 86.12L478.17 86.12L479.01 86.11L479.85 86.11L480.69 86.11L481.53 86.11L482.37 86.11L483.21 86.11L484.06 86.11L484.91 86.1L485.75 86.1L486.6 86.1L487.45 86.1L488.3 86.1L489.15 86.1L490.01 86.09L490.1 86.09M494.9 86.09L496.01 86.08L496.88 86.08L497.74 86.08L498.61 86.08L499.47 86.08L500.34 86.08L501.21 86.07L502.08 86.07L502.95 86.07L503.82 86.07L504.7 86.07L505.57 86.07L506.45 86.07L507.33 86.06L508.2 86.06L509.08 86.06L509.96 86.06L510.8 86.06M515.6 86.05L517.06 86.05L517.95 86.05L518.84 86.05L519.74 86.04L520.63 86.04L521.53 86.04L522.43 86.04L523.33 86.04L524.23 86.04L525.13 86.04L526.03 86.03L526.94 86.03L527.84 86.03L528.75 86.03L529.66 86.03L530.57 86.03L531.48 86.03L531.5 86.03M536.3 86.02L536.96 86.02L537.88 86.02L538.8 86.02L539.73 86.01L540.65 86.01L541.57 86.01L542.5 86.01L543.42 86.01L544.35 86.01L545.28 86.01L546.21 86L547.14 86L548.08 86L549.01 86L549.95 86L550.88 86L551.82 86L552.2 86" fill="none" stroke-width="2.1"/>
<path d="M83.84 363.4L83.84 362.79L83.85 362.2L83.85 361.56L83.86 360.88L83.86 360.23L83.87 359.48L83.87 358.85L83.88 358.15L83.88 357.4L83.89 356.57L83.89 355.68L83.9 355.04L83.9 354.38L83.91 353.68L83.91 352.95L83.92 352.18L83.93 351.38L83.93 350.55L83.94 349.69L83.95 348.79L83.95 347.85L83.96 346.88L83.97 345.88L83.98 344.84L83.98 343.77L83.99 342.66L84 341.52L84.01 340.34L84.02 339.74L84.02 339.13L84.03 338.51L84.03 337.89L84.04 337.25L84.04 336.61L84.05 335.96L84.05 335.3L84.06 334.63L84.06 333.96L84.07 333.27L84.08 332.58L84.08 331.88L84.09 331.18L84.09 330.46L84.1 329.74L84.11 329.01L84.11 328.27L84.12 327.53L84.13 326.78L84.13 326.02L84.14 325.25L84.15 324.48L84.15 323.7L84.16 322.91L84.17 322.12L84.18 321.32L84.18 320.51L84.19 319.7L84.2 318.88L84.21 318.06L84.22 317.23L84.22 316.39L84.23 315.55L84.24 314.7L84.25 313.85L84.26 312.99L84.27 312.13L84.28 311.26L84.28 310.39L84.29 309.51L84.3 308.63L84.31 307.74L84.32 306.85L84.33 305.96L84.34 305.06L84.35 304.16L84.36 303.26L84.37 302.35L84.38 301.44L84.39 300.53L84.4 299.61L84.41 298.69L84.42 297.77L84.43 296.85L84.45 295.92L84.46 294.99L84.47 294.07L84.48 293.13L84.49 292.2L84.5 291.27L84.51 290.34L84.53 289.4L84.54 288.47L84.55 287.53L84.56 286.6L84.58 285.66L84.59 284.73L84.6 283.79L84.62 282.86L84.63 281.93L84.64 281L84.66 280.07L84.67 279.14L84.68 278.21L84.7 277.28L84.71 276.36L84.73 275.44L84.74 274.52L84.75 273.6L84.77 272.68L84.78 271.77L84.8 270.86L84.81 269.96L84.83 269.06L84.84 268.16L84.86 267.26L84.88 266.37L84.89 265.48L84.91 264.6L84.92 263.72L84.94 262.85L84.96 261.98L84.98 261.11L84.99 260.25L85.01 259.4L85.03 258.55L85.04 257.7L85.06 256.87L85.08 256.03L85.1 255.2L85.12 254.38L85.13 253.57L85.15 252.76L85.17 251.96L85.19 251.16L85.21 250.37L85.23 249.59L85.25 248.81L85.27 248.04L85.29 247.28L85.31 246.52L85.33 245.77L85.35 245.03L85.37 244.3L85.39 243.57L85.41 242.85L85.43 242.14L85.45 241.44L85.47 240.74L85.5 240.05L85.52 239.37L85.54 238.7L85.56 238.03L85.59 237.38L85.61 236.73L85.63 236.09L85.65 235.45L85.68 234.83L85.7 234.21L85.72 233.61L85.75 233.01L85.77 232.41L85.8 231.83L85.85 230.69L85.9 229.58L85.95 228.5L86 227.46L86.05 226.45L86.1 225.47L86.16 224.53L86.21 223.61L86.27 222.73L86.33 221.88L86.38 221.07L86.44 220.28L86.5 219.52L86.56 218.8L86.62 218.1L86.68 217.43L86.75 216.79L86.81 216.18L86.88 215.59L86.94 215.04L87.04 214.25L87.14 213.51L87.25 212.83L87.36 212.2L87.46 211.62L87.58 211.08L87.69 210.58L87.84 209.99L88 209.46L88.17 208.99L88.38 208.49L88.59 208.06L88.86 207.64L89.14 207.29L89.48 206.98L89.88 206.72L90.31 206.53L90.81 206.38L91.33 206.29L91.88 206.23L92.45 206.19L93.06 206.16L93.69 206.15L94.34 206.14L94.95 206.14L95.59 206.14L96.24 206.13L96.92 206.13L97.53 206.13L98.17 206.13L98.82 206.13L99.49 206.13L100.18 206.13L100.79 206.13L101.42 206.13L102.06 206.13L102.71 206.13L103.38 206.13L104.07 206.13L104.77 206.13L105.48 206.13L106.1 206.13L106.72 206.13L107.35 206.13L107.99 206.13L108.65 206.13L109.32 206.13L110 206.13L110.69 206.13L111.4 206.13L112.11 206.13L112.84 206.13L113.58 206.13L114.18 206.13L114.79 206.13L115.41 206.13L116.04 206.13L116.67 206.13L117.31 206.13L117.97 206.13L118.62 206.13L119.29 206.13L119.97 206.13L120.65 206.13L121.35 206.13L122.05 206.13L122.76 206.13L123.48 206.13L124.21 206.13L124.95 206.13L125.69 206.13L126.45 206.13L127.21 206.13L127.98 206.13L128.77 206.13L129.56 206.13L130.36 206.13L130.97 206.13L131.58 206.13L132.2 206.13L132.82 206.13L133.45 206.13L134.08 206.13L134.72 206.13L135.36 206.13L136.01 206.13L136.67 206.13L137.33 206.13L137.99 206.13L138.66 206.13L139.34 206.13L140.02 206.13L140.71 206.13L141.4 206.13L142.1 206.13L142.81 206.13L143.52 206.13L144.23 206.13L144.96 206.13L145.68 206.13L146.42 206.13L147.16 206.13L147.9 206.13L148.65 206.13L149.41 206.13L150.17 206.13L150.94 206.13L151.71 206.13L152.49 206.13L153.28 206.13L154.07 206.13L154.87 206.13L155.67 206.13L156.48 206.13L157.3 206.13L158.12 206.13L158.95 206.13L159.79 206.13L160.63 206.13L161.47 206.13L162.33 206.13L163.19 206.13L164.05 206.13L164.92 206.13L165.8 206.13L166.69 206.13L167.58 206.13L168.47 206.13L169.08 206.13L169.68 206.13L170.29 206.13L170.9 206.13L171.51 206.13L172.13 206.13L172.75 206.13L173.37 206.13L173.99 206.13L174.62 206.13L175.25 206.13L175.88 206.13L176.52 206.13L177.16 206.13L177.8 206.13L178.45 206.13L179.09 206.13L179.74 206.13L180.4 206.13L181.06 206.13L181.71 206.13L182.38 206.13L183.04 206.13L183.71 206.13L184.38 206.13L185.06 206.13L185.74 206.13L186.42 206.13L187.1 206.13L187.79 206.13L188.48 206.13L189.17 206.13L189.87 206.13L190.57 206.13L191.27 206.13L191.97 206.13L192.68 206.13L193.39 206.13L194.11 206.13L194.83 206.13L195.55 206.13L196.27 206.13L197 206.13L197.73 206.13L198.46 206.13L199.2 206.13L199.94 206.13L200.68 206.13L201.42 206.13L202.17 206.13L202.93 206.13L203.68 206.13L204.44 206.13L205.2 206.13L205.97 206.13L206.73 206.13L207.5 206.13L208.28 206.13L209.06 206.13L209.84 206.13L210.62 206.13L211.41 206.13L212.2 206.13L212.99 206.13L213.79 206.13L214.59 206.13L215.4 206.13L216.2 206.13L217.01 206.13L217.83 206.13L218.64 206.13L219.46 206.13L220.29 206.13L221.12 206.13L221.95 206.13L222.78 206.13L223.62 206.13L224.46 206.13L225.3 206.13L226.15 206.13L227 206.13L227.85 206.13L228.71 206.13L229.57 206.13L230.43 206.13L231.3 206.13L232.17 206.13L233.05 206.13L233.92 206.13L234.8 206.13L235.69 206.13L236.58 206.13L237.47 206.13L238.36 206.13L239.26 206.13L240.16 206.13L241.07 206.13L241.98 206.13L242.89 206.13L243.81 206.13L244.73 206.13L245.65 206.13L246.57 206.13L247.5 206.13L248.44 206.13L249.37 206.13L250.32 206.13L251.26 206.13L252.21 206.13L253.16 206.13L254.11 206.13L255.07 206.13L256.03 206.13L257 206.13L257.97 206.13L258.94 206.13L259.92 206.13L260.9 206.13L261.88 206.13L262.87 206.13L263.86 206.13L264.85 206.13L265.85 206.13L266.85 206.13L267.86 206.13L268.87 206.13L269.88 206.13L270.9 206.13L271.92 206.13L272.94 206.13L273.97 206.13L275 206.13L276.04 206.13L277.08 206.13L278.12 206.13L279.17 206.13L280.22 206.13L281.27 206.13L282.33 206.13L283.39 206.13L284.45 206.13L285.52 206.13L286.6 206.13L287.67 206.13L288.75 206.13L289.84 206.13L290.92 206.13L292.02 206.13L293.11 206.13L294.21 206.13L295.31 206.13L296.42 206.13L297.53 206.13L298.65 206.13L299.77 206.13L300.89 206.13L302.02 206.13L303.15 206.13L304.28 206.13L305.42 206.13L306.56 206.13L307.71 206.13L308.86 206.13L310.01 206.13L311.17 206.13L312.33 206.13L313.5 206.13L314.67 206.13L315.84 206.13L317.02 206.13L318.2 206.13L319.38 206.13L320.57 206.13L321.77 206.13L322.97 206.13L323.57 206.13L324.17 206.13L324.77 206.13L325.37 206.13L325.98 206.13L326.58 206.13L327.19 206.13L327.8 206.13L328.4 206.13L329.01 206.13L329.62 206.13L330.24 206.13L330.85 206.13L331.46 206.13L332.08 206.13L332.69 206.13L333.31 206.13L333.93 206.13L334.54 206.13L335.16 206.13L335.78 206.13L336.41 206.13L337.03 206.13L337.65 206.13L338.28 206.13L338.9 206.13L339.53 206.13L340.16 206.13L340.79 206.13L341.42 206.13L342.05 206.13L342.68 206.13L343.31 206.13L343.94 206.13L344.58 206.13L345.22 206.13L345.85 206.13L346.49 206.13L347.13 206.13L347.77 206.13L348.41 206.13L349.05 206.13L349.7 206.13L350.34 206.13L350.99 206.13L351.63 206.13L352.28 206.13L352.93 206.13L353.58 206.13L354.23 206.13L354.88 206.13L355.53 206.13L356.19 206.13L356.84 206.13L357.5 206.13L358.15 206.13L358.81 206.13L359.47 206.13L360.13 206.13L360.79 206.13L361.45 206.13L362.12 206.13L362.78 206.13L363.44 206.13L364.11 206.13L364.78 206.13L365.45 206.13L366.12 206.13L366.79 206.13L367.46 206.13L368.13 206.13L368.8 206.13L369.48 206.13L370.15 206.13L370.83 206.13L371.51 206.13L372.19 206.13L372.87 206.13L373.55 206.13L374.23 206.13L374.92 206.13L375.6 206.13L376.29 206.13L376.97 206.13L377.66 206.13L378.35 206.13L379.04 206.13L379.73 206.13L380.42 206.13L381.11 206.13L381.81 206.13L382.5 206.13L383.2 206.13L383.9 206.13L384.59 206.13L385.29 206.13L385.99 206.13L386.7 206.13L387.4 206.13L388.1 206.13L388.81 206.13L389.51 206.13L390.22 206.13L390.93 206.13L391.64 206.13L392.35 206.13L393.06 206.13L393.77 206.13L394.48 206.13L395.2 206.13L395.92 206.13L396.63 206.13L397.35 206.13L398.07 206.13L398.79 206.13L399.51 206.13L400.23 206.13L400.96 206.13L401.68 206.13L402.41 206.13L403.13 206.13L403.86 206.13L404.59 206.13L405.32 206.13L406.05 206.13L406.78 206.13L407.52 206.13L408.25 206.13L408.99 206.13L409.72 206.13L410.46 206.13L411.2 206.13L411.94 206.13L412.68 206.13L413.42 206.13L414.17 206.13L414.91 206.13L415.66 206.13L416.4 206.13L417.15 206.13L417.9 206.13L418.65 206.13L419.4 206.13L420.16 206.13L420.91 206.13L421.66 206.13L422.42 206.13L423.18 206.13L423.93 206.13L424.69 206.13L425.45 206.13L426.22 206.13L426.98 206.13L427.74 206.13L428.51 206.13L429.27 206.13L430.04 206.13L430.81 206.13L431.58 206.13L432.35 206.13L433.12 206.13L433.89 206.13L434.67 206.13L435.44 206.13L436.22 206.13L436.99 206.13L437.77 206.13L438.55 206.13L439.33 206.13L440.11 206.13L440.9 206.13L441.68 206.13L442.47 206.13L443.25 206.13L444.04 206.13L444.83 206.13L445.62 206.13L446.41 206.13L447.2 206.13L448 206.13L448.79 206.13L449.59 206.13L450.38 206.13L451.18 206.13L451.98 206.13L452.78 206.13L453.58 206.13L454.38 206.13L455.19 206.13L455.99 206.13L456.8 206.13L457.61 206.13L458.42 206.13L459.23 206.13L460.04 206.13L460.85 206.13L461.66 206.13L462.48 206.13L463.29 206.13L464.11 206.13L464.92 206.13L465.74 206.13L466.56 206.13L467.39 206.13L468.21 206.13L469.03 206.13L469.86 206.13L470.68 206.13L471.51 206.13L472.34 206.13L473.17 206.13L474 206.13L474.83 206.13L475.66 206.13L476.5 206.13L477.33 206.13L478.17 206.13L479.01 206.13L479.85 206.13L480.69 206.13L481.53 206.13L482.37 206.13L483.21 206.13L484.06 206.13L484.91 206.13L485.75 206.13L486.6 206.13L487.45 206.13L488.3 206.13L489.15 206.13L490.01 206.13L490.86 206.13L491.72 206.13L492.57 206.13L493.43 206.13L494.29 206.13L495.15 206.13L496.01 206.13L496.88 206.13L497.74 206.13L498.61 206.13L499.47 206.13L500.34 206.13L501.21 206.13L502.08 206.13L502.95 206.13L503.82 206.13L504.7 206.13L505.57 206.13L506.45 206.13L507.33 206.13L508.2 206.13L509.08 206.13L509.96 206.13L510.85 206.13L511.73 206.13L512.61 206.13L513.5 206.13L514.39 206.13L515.28 206.13L516.17 206.13L517.06 206.13L517.95 206.13L518.84 206.13L519.74 206.13L520.63 206.13L521.53 206.13L522.43 206.13L523.33 206.13L524.23 206.13L525.13 206.13L526.03 206.13L526.94 206.13L527.84 206.13L528.75 206.13L529.66 206.13L530.57 206.13L531.48 206.13L532.39 206.13L533.3 206.13L534.21 206.13L535.13 206.13L536.05 206.13L536.96 206.13L537.88 206.13L538.8 206.13L539.73 206.13L540.65 206.13L541.57 206.13L542.5 206.13L543.42 206.13L544.35 206.13L545.28 206.13L546.21 206.13L547.14 206.13L548.08 206.13L549.01 206.13L549.95 206.13L550.88 206.13L551.82 206.13L552.76 206.13L553.7 206.13L554.64 206.13L555.58 206.13L555.58 206.13" fill="none" stroke-width="2"/>
<path d="M83.84 362.09L83.85 361.41L83.85 360.61L83.85 359.9L83.85 359.07L83.85 358.46L83.85 357.79L83.86 357.07L83.86 356.3L83.86 355.48L83.86 354.59L83.87 353.66L83.87 352.67L83.87 351.62L83.87 350.51L83.88 349.36L83.88 348.76L83.88 348.14L83.88 347.52L83.89 346.88L83.89 346.23L83.89 346.19M83.9 341.39L83.91 340.56L83.91 339.8L83.91 339.03L83.91 338.24L83.92 337.45L83.92 336.64L83.92 335.83L83.93 335.01L83.93 334.17L83.93 333.33L83.94 332.48L83.94 331.62L83.94 330.76L83.95 329.88L83.95 329L83.95 328.11L83.96 327.21L83.96 326.31L83.96 325.49M83.98 320.69L83.99 319.84L83.99 318.9L84 317.95L84 317L84.01 316.05L84.01 315.1L84.02 314.14L84.02 313.18L84.03 312.22L84.03 311.26L84.04 310.3L84.04 309.34L84.05 308.38L84.05 307.42L84.06 306.46L84.06 305.5L84.07 304.79M84.1 299.99L84.11 298.82L84.11 297.88L84.12 296.94L84.13 296L84.13 295.06L84.14 294.13L84.15 293.2L84.15 292.28L84.16 291.36L84.17 290.45L84.18 289.54L84.18 288.63L84.19 287.73L84.2 286.84L84.21 285.95L84.22 285.06L84.22 284.18L84.22 284.09M84.27 279.29L84.28 278.2L84.29 277.37L84.3 276.54L84.31 275.72L84.32 274.91L84.33 274.11L84.34 273.31L84.35 272.52L84.36 271.74L84.37 270.96L84.38 270.19L84.39 269.42L84.4 268.67L84.41 267.92L84.42 267.18L84.43 266.44L84.45 265.71L84.46 264.99L84.47 264.28L84.48 263.57L84.48 263.39M84.57 258.59L84.59 257.52L84.6 256.88L84.62 256.25L84.63 255.62L84.64 255.01L84.66 254.4L84.67 253.79L84.68 253.2L84.7 252.61L84.73 251.44L84.75 250.31L84.78 249.2L84.81 248.12L84.84 247.06L84.88 246.02L84.91 245.01L84.94 244.03L84.98 243.06L84.99 242.69M85.18 237.89L85.23 236.94L85.27 236.14L85.31 235.37L85.35 234.61L85.39 233.88L85.43 233.16L85.47 232.46L85.52 231.77L85.56 231.11L85.61 230.45L85.65 229.82L85.7 229.2L85.75 228.59L85.8 228L85.85 227.43L85.9 226.87L85.97 226.05L86.05 225.26L86.13 224.5L86.21 223.77L86.3 223.06L86.38 222.38L86.43 221.99M87.26 217.19L87.39 216.6L87.54 216L87.69 215.42L87.84 214.87L88 214.34L88.17 213.83L88.33 213.35L88.51 212.89L88.68 212.45L88.86 212.02L89.09 211.52L89.33 211.04L89.58 210.59L89.83 210.15L90.09 209.75L90.36 209.36L90.64 208.99L90.92 208.64L91.21 208.3L91.51 207.98L91.82 207.68L92.13 207.39L92.52 207.06L92.92 206.75L93.33 206.46L93.76 206.18L94.2 205.91L94.65 205.67L95.11 205.43L95.59 205.2L96.07 204.99L96.58 204.79L97.09 204.6L97.62 204.41L98.17 204.24L98.2 204.23M103 203.12L103.61 203.01L104.18 202.92L104.77 202.83L105.36 202.75L105.97 202.66L106.59 202.59L107.22 202.51L107.86 202.43L108.52 202.36L109.18 202.29L109.86 202.23L110.41 202.18L110.97 202.13L111.54 202.08L112.11 202.03L112.69 201.98L113.28 201.94L113.88 201.89L114.49 201.85L115.1 201.81L115.72 201.77L116.35 201.73L116.99 201.69L117.64 201.65L118.29 201.61L118.9 201.58M123.7 201.36L124.39 201.33L125.13 201.3L125.88 201.27L126.64 201.24L127.4 201.22L127.98 201.2L128.57 201.18L129.16 201.16L129.76 201.14L130.36 201.12L130.97 201.1L131.58 201.08L132.2 201.07L132.82 201.05L133.45 201.03L134.08 201.02L134.72 201L135.36 200.98L136.01 200.97L136.67 200.95L137.33 200.94L137.99 200.92L138.66 200.91L139.34 200.89L139.6 200.89M144.4 200.79L145.2 200.78L145.93 200.77L146.66 200.75L147.4 200.74L148.15 200.73L148.9 200.72L149.66 200.7L150.43 200.69L151.2 200.68L151.97 200.67L152.76 200.66L153.54 200.65L154.34 200.64L155.14 200.63L155.94 200.62L156.76 200.61L157.57 200.6L158.4 200.59L159.23 200.58L160.07 200.57L160.3 200.56M165.1 200.51L165.8 200.51L166.69 200.5L167.58 200.49L168.17 200.48L168.77 200.48L169.38 200.47L169.98 200.47L170.59 200.46L171.2 200.46L171.82 200.45L172.44 200.45L173.06 200.44L173.68 200.44L174.31 200.43L174.93 200.43L175.57 200.42L176.2 200.42L176.84 200.41L177.48 200.41L178.12 200.4L178.77 200.4L179.42 200.39L180.07 200.39L180.73 200.38L181 200.38M185.8 200.35L186.42 200.34L187.1 200.34L187.79 200.34L188.48 200.33L189.17 200.33L189.87 200.32L190.57 200.32L191.27 200.31L191.97 200.31L192.68 200.31L193.39 200.3L194.11 200.3L194.83 200.29L195.55 200.29L196.27 200.29L197 200.28L197.73 200.28L198.46 200.28L199.2 200.27L199.94 200.27L200.68 200.26L201.42 200.26L201.7 200.26M206.5 200.24L207.12 200.24L207.89 200.23L208.67 200.23L209.45 200.23L210.23 200.22L211.02 200.22L211.8 200.22L212.6 200.21L213.39 200.21L214.19 200.21L214.99 200.2L215.8 200.2L216.61 200.2L217.42 200.19L218.24 200.19L219.05 200.19L219.88 200.18L220.7 200.18L221.53 200.18L222.36 200.18L222.4 200.18M227.2 200.16L227.85 200.16L228.71 200.15L229.57 200.15L230.43 200.15L231.3 200.15L232.17 200.14L233.05 200.14L233.92 200.14L234.8 200.14L235.69 200.13L236.58 200.13L237.47 200.13L238.36 200.13L239.26 200.12L240.16 200.12L241.07 200.12L241.98 200.12L242.89 200.11L243.1 200.11M247.9 200.1L248.91 200.1L249.84 200.1L250.79 200.09L251.73 200.09L252.68 200.09L253.64 200.09L254.59 200.08L255.55 200.08L256.52 200.08L257.48 200.08L258.45 200.08L259.43 200.07L260.41 200.07L261.39 200.07L262.37 200.07L263.36 200.07L263.8 200.06M268.6 200.06L269.37 200.05L270.39 200.05L271.41 200.05L272.43 200.05L273.46 200.05L274.49 200.04L275.52 200.04L276.56 200.04L277.6 200.04L278.64 200.04L279.69 200.03L280.74 200.03L281.8 200.03L282.86 200.03L283.92 200.03L284.5 200.03M289.3 200.02L290.38 200.02L291.47 200.02L292.56 200.01L293.66 200.01L294.76 200.01L295.87 200.01L296.98 200.01L298.09 200.01L299.21 200L300.33 200L301.45 200L302.58 200L303.71 200L304.85 200L305.2 200M310 199.99L311.17 199.99L312.33 199.99L313.5 199.98L314.67 199.98L315.84 199.98L317.02 199.98L318.2 199.98L319.38 199.98L320.57 199.98L321.77 199.97L322.97 199.97L323.57 199.97L324.17 199.97L324.77 199.97L325.37 199.97L325.9 199.97M330.7 199.96L331.46 199.96L332.08 199.96L332.69 199.96L333.31 199.96L333.93 199.96L334.54 199.96L335.16 199.96L335.78 199.96L336.41 199.96L337.03 199.96L337.65 199.96L338.28 199.96L338.9 199.96L339.53 199.96L340.16 199.95L340.79 199.95L341.42 199.95L342.05 199.95L342.68 199.95L343.31 199.95L343.94 199.95L344.58 199.95L345.22 199.95L345.85 199.95L346.49 199.95L346.6 199.95M351.4 199.94L352.28 199.94L352.93 199.94L353.58 199.94L354.23 199.94L354.88 199.94L355.53 199.94L356.19 199.94L356.84 199.94L357.5 199.94L358.15 199.94L358.81 199.94L359.47 199.94L360.13 199.94L360.79 199.94L361.45 199.93L362.12 199.93L362.78 199.93L363.44 199.93L364.11 199.93L364.78 199.93L365.45 199.93L366.12 199.93L366.79 199.93L367.3 199.93M372.1 199.93L372.87 199.92L373.55 199.92L374.23 199.92L374.92 199.92L375.6 199.92L376.29 199.92L376.97 199.92L377.66 199.92L378.35 199.92L379.04 199.92L379.73 199.92L380.42 199.92L381.11 199.92L381.81 199.92L382.5 199.92L383.2 199.92L383.9 199.92L384.59 199.92L385.29 199.92L385.99 199.91L386.7 199.91L387.4 199.91L388 199.91M392.8 199.91L393.77 199.91L394.48 199.91L395.2 199.91L395.92 199.91L396.63 199.91L397.35 199.91L398.07 199.91L398.79 199.91L399.51 199.91L400.23 199.9L400.96 199.9L401.68 199.9L402.41 199.9L403.13 199.9L403.86 199.9L404.59 199.9L405.32 199.9L406.05 199.9L406.78 199.9L407.52 199.9L408.25 199.9L408.7 199.9M413.5 199.9L414.17 199.9L414.91 199.9L415.66 199.9L416.4 199.89L417.15 199.89L417.9 199.89L418.65 199.89L419.4 199.89L420.16 199.89L420.91 199.89L421.66 199.89L422.42 199.89L423.18 199.89L423.93 199.89L424.69 199.89L425.45 199.89L426.22 199.89L426.98 199.89L427.74 199.89L428.51 199.89L429.27 199.89L429.4 199.89M434.2 199.88L435.44 199.88L436.22 199.88L436.99 199.88L437.77 199.88L438.55 199.88L439.33 199.88L440.11 199.88L440.9 199.88L441.68 199.88L442.47 199.88L443.25 199.88L444.04 199.88L444.83 199.88L445.62 199.88L446.41 199.88L447.2 199.88L448 199.88L448.79 199.88L449.59 199.88L450.1 199.88M454.9 199.87L455.99 199.87L456.8 199.87L457.61 199.87L458.42 199.87L459.23 199.87L460.04 199.87L460.85 199.87L461.66 199.87L462.48 199.87L463.29 199.87L464.11 199.87L464.92 199.87L465.74 199.87L466.56 199.87L467.39 199.87L468.21 199.87L469.03 199.87L469.86 199.87L470.68 199.87L470.8 199.87M475.6 199.86L476.5 199.86L477.33 199.86L478.17 199.86L479.01 199.86L479.85 199.86L480.69 199.86L481.53 199.86L482.37 199.86L483.21 199.86L484.06 199.86L484.91 199.86L485.75 199.86L486.6 199.86L487.45 199.86L488.3 199.86L489.15 199.86L490.01 199.86L490.86 199.86L491.5 199.86M496.3 199.86L497.74 199.86L498.61 199.85L499.47 199.85L500.34 199.85L501.21 199.85L502.08 199.85L502.95 199.85L503.82 199.85L504.7 199.85L505.57 199.85L506.45 199.85L507.33 199.85L508.2 199.85L509.08 199.85L509.96 199.85L510.85 199.85L511.73 199.85L512.2 199.85M517 199.85L517.95 199.85L518.84 199.85L519.74 199.85L520.63 199.85L521.53 199.85L522.43 199.85L523.33 199.85L524.23 199.85L525.13 199.85L526.03 199.84L526.94 199.84L527.84 199.84L528.75 199.84L529.66 199.84L530.57 199.84L531.48 199.84L532.39 199.84L532.9 199.84M537.7 199.84L538.8 199.84L539.73 199.84L540.65 199.84L541.57 199.84L542.5 199.84L543.42 199.84L544.35 199.84L545.28 199.84L546.21 199.84L547.14 199.84L548.08 199.84L549.01 199.84L549.95 199.84L550.88 199.84L551.82 199.84L552.76 199.84L553.6 199.84" fill="none" stroke-width="2.1"/>
<g transform="translate(15.2 235.5) rotate(-90)">
<text transform="scale(1 0.91)" font-size="23" letter-spacing="0.95"><tspan font-style="italic">q</tspan><tspan dy="17.4">t</tspan><tspan dy="-17.4" dx="-3.6" letter-spacing="1.55"> (mg/g)</tspan></text>
</g>
<circle cx="356.5" cy="269.7" r="5.1" fill="#000" stroke="none"/>
<circle cx="356.8" cy="293.8" r="3.9" fill="#fff" stroke-width="2"/>
<text transform="translate(385.6 275.2) scale(1 1.04)" font-size="15" textLength="46.2" lengthAdjust="spacing" class="hv">BC200</text>
<text transform="translate(385.9 299.3) scale(1 1.04)" font-size="15" textLength="62.7" lengthAdjust="spacing" class="hv">BCW200</text>
<line x1="336.7" y1="315.4" x2="377" y2="315.4" stroke-width="2.1" />
<line x1="336.7" y1="333.6" x2="393.1" y2="333.6" stroke-width="2.3" stroke-dasharray="14.6 6.3"/>
<line x1="336.5" y1="351.7" x2="377.3" y2="351.7" stroke-width="2.1" stroke-dasharray="2.0 2.78"/>
<text transform="translate(385.5 321.4) scale(1 1.04)" font-size="15" textLength="124.4" lengthAdjust="spacing" class="hv">Pseudo-first-order</text>
<text transform="translate(414.8 339.4) scale(1 1.04)" font-size="15" textLength="143.5" lengthAdjust="spacing" class="hv">Pseudo-second-order</text>
<text transform="translate(385.1 357.3) scale(1 1.04)" font-size="15" textLength="201.3" lengthAdjust="spacing" class="hv">Two-compartment first-order</text>
<g id="inset" font-weight="bold">
<rect x="145.4" y="217.5" width="171.5" height="123.5" fill="#fff" stroke-width="1.5"/>
<line x1="142.2" y1="341" x2="145.4" y2="341" stroke-width="1.3" />
<text transform="translate(138.3 343.6) scale(1 1.04)" font-size="7.4" text-anchor="end" >0</text>
<line x1="142.2" y1="323.36" x2="145.4" y2="323.36" stroke-width="1.3" />
<text transform="translate(138.3 325.96) scale(1 1.04)" font-size="7.4" text-anchor="end" >3</text>
<line x1="142.2" y1="305.71" x2="145.4" y2="305.71" stroke-width="1.3" />
<text transform="translate(138.3 308.31) scale(1 1.04)" font-size="7.4" text-anchor="end" >6</text>
<line x1="142.2" y1="288.07" x2="145.4" y2="288.07" stroke-width="1.3" />
<text transform="translate(138.3 290.67) scale(1 1.04)" font-size="7.4" text-anchor="end" >9</text>
<line x1="142.2" y1="270.43" x2="145.4" y2="270.43" stroke-width="1.3" />
<text transform="translate(138.3 273.03) scale(1 1.04)" font-size="7.4" text-anchor="end" >12</text>
<line x1="142.2" y1="252.79" x2="145.4" y2="252.79" stroke-width="1.3" />
<text transform="translate(138.3 255.39) scale(1 1.04)" font-size="7.4" text-anchor="end" >15</text>
<line x1="142.2" y1="235.14" x2="145.4" y2="235.14" stroke-width="1.3" />
<text transform="translate(138.3 237.74) scale(1 1.04)" font-size="7.4" text-anchor="end" >18</text>
<line x1="142.2" y1="217.5" x2="145.4" y2="217.5" stroke-width="1.3" />
<text transform="translate(138.3 220.1) scale(1 1.04)" font-size="7.4" text-anchor="end" >21</text>
<line x1="145.4" y1="341" x2="145.4" y2="344.2" stroke-width="1.3" />
<text transform="translate(145.4 354.9) scale(1 1.04)" font-size="7.4" text-anchor="middle" >0</text>
<line x1="164.46" y1="341" x2="164.46" y2="344.2" stroke-width="1.3" />
<text transform="translate(164.46 354.9) scale(1 1.04)" font-size="7.4" text-anchor="middle" >1</text>
<line x1="183.51" y1="341" x2="183.51" y2="344.2" stroke-width="1.3" />
<text transform="translate(183.51 354.9) scale(1 1.04)" font-size="7.4" text-anchor="middle" >2</text>
<line x1="202.57" y1="341" x2="202.57" y2="344.2" stroke-width="1.3" />
<text transform="translate(202.57 354.9) scale(1 1.04)" font-size="7.4" text-anchor="middle" >3</text>
<line x1="221.62" y1="341" x2="221.62" y2="344.2" stroke-width="1.3" />
<text transform="translate(221.62 354.9) scale(1 1.04)" font-size="7.4" text-anchor="middle" >4</text>
<line x1="240.68" y1="341" x2="240.68" y2="344.2" stroke-width="1.3" />
<text transform="translate(240.68 354.9) scale(1 1.04)" font-size="7.4" text-anchor="middle" >5</text>
<line x1="259.73" y1="341" x2="259.73" y2="344.2" stroke-width="1.3" />
<text transform="translate(259.73 354.9) scale(1 1.04)" font-size="7.4" text-anchor="middle" >6</text>
<line x1="278.79" y1="341" x2="278.79" y2="344.2" stroke-width="1.3" />
<text transform="translate(278.79 354.9) scale(1 1.04)" font-size="7.4" text-anchor="middle" >7</text>
<line x1="297.84" y1="341" x2="297.84" y2="344.2" stroke-width="1.3" />
<text transform="translate(297.84 354.9) scale(1 1.04)" font-size="7.4" text-anchor="middle" >8</text>
<line x1="316.9" y1="341" x2="316.9" y2="344.2" stroke-width="1.3" />
<text transform="translate(316.9 354.9) scale(1 1.04)" font-size="7.4" text-anchor="middle" >9</text>
<text transform="translate(215.2 366.5) scale(1 1.04)" font-size="8.6" textLength="32.3" lengthAdjust="spacing" >Time (h)</text>
<g transform="translate(120.8 296.8) rotate(-90)"><text x="0" y="0" font-size="8.5" textLength="35.3" lengthAdjust="spacing"><tspan font-style="italic">q</tspan><tspan dy="3">t</tspan><tspan dy="-3"> (mg/g)</tspan></text></g>
<path d="M146.98 303.47V307.7M144.58 303.47H149.38M144.58 307.7H149.38" stroke-width="1.15" fill="none"/>
<path d="M150.16 294.89V301.36M147.76 294.89H152.56M147.76 301.36H152.56" stroke-width="1.15" fill="none"/>
<path d="M154.93 294.48V300.36M152.53 294.48H157.33M152.53 300.36H157.33" stroke-width="1.15" fill="none"/>
<path d="M164.46 288.9V296.31M162.06 288.9H166.86M162.06 296.31H166.86" stroke-width="1.15" fill="none"/>
<path d="M183.51 285.91V293.32M181.11 285.91H185.91M181.11 293.32H185.91" stroke-width="1.15" fill="none"/>
<path d="M221.62 287.79V290.14M219.22 287.79H224.02M219.22 290.14H224.02" stroke-width="1.15" fill="none"/>
<path d="M297.84 281.45V284.86M295.44 281.45H300.24M295.44 284.86H300.24" stroke-width="1.15" fill="none"/>
<path d="M146.98 294.95V301.54M144.58 294.95H149.38M144.58 301.54H149.38" stroke-width="1.15" fill="none"/>
<path d="M150.16 277.4V282.22M147.76 277.4H152.56M147.76 282.22H152.56" stroke-width="1.15" fill="none"/>
<path d="M154.93 275.34V282.4M152.53 275.34H157.33M152.53 282.4H157.33" stroke-width="1.15" fill="none"/>
<path d="M164.46 264.48V271.3M162.06 264.48H166.86M162.06 271.3H166.86" stroke-width="1.15" fill="none"/>
<path d="M183.51 259.02V267.02M181.11 259.02H185.91M181.11 267.02H185.91" stroke-width="1.15" fill="none"/>
<path d="M221.62 254.21V256.91M219.22 254.21H224.02M219.22 256.91H224.02" stroke-width="1.15" fill="none"/>
<path d="M297.84 235.53V250.23M295.44 235.53H300.24M295.44 250.23H300.24" stroke-width="1.15" fill="none"/>
<circle cx="146.98" cy="305.58" r="2.55" fill="#000" stroke="none"/>
<circle cx="150.16" cy="298.13" r="2.55" fill="#000" stroke="none"/>
<circle cx="154.93" cy="297.42" r="2.55" fill="#000" stroke="none"/>
<circle cx="164.46" cy="292.61" r="2.55" fill="#000" stroke="none"/>
<circle cx="183.51" cy="289.61" r="2.55" fill="#000" stroke="none"/>
<circle cx="221.62" cy="288.97" r="2.55" fill="#000" stroke="none"/>
<circle cx="297.84" cy="283.16" r="2.55" fill="#000" stroke="none"/>
<circle cx="146.98" cy="298.24" r="1.93" fill="#fff" stroke-width="1.15"/>
<circle cx="150.16" cy="279.81" r="1.93" fill="#fff" stroke-width="1.15"/>
<circle cx="154.93" cy="278.87" r="1.93" fill="#fff" stroke-width="1.15"/>
<circle cx="164.46" cy="267.89" r="1.93" fill="#fff" stroke-width="1.15"/>
<circle cx="183.51" cy="263.02" r="1.93" fill="#fff" stroke-width="1.15"/>
<circle cx="221.62" cy="255.56" r="1.93" fill="#fff" stroke-width="1.15"/>
<circle cx="297.84" cy="242.88" r="1.93" fill="#fff" stroke-width="1.15"/>
<circle cx="145.4" cy="341" r="1.93" fill="#fff" stroke-width="1.15"/>
<circle cx="262" cy="319.3" r="2.5" fill="#000" stroke="none"/>
<circle cx="262" cy="330.5" r="1.93" fill="#fff" stroke-width="1.15"/>
<text transform="translate(276.5 322.3) scale(1 1.04)" font-size="7.5" letter-spacing="0.3" >BC200</text>
<text transform="translate(276.5 333) scale(1 1.04)" font-size="7.5" letter-spacing="0.3" >BCW200</text>
</g>
</g>
<g id="panel-b">
<rect x="86.3" y="483.65" width="507.3" height="365.15" fill="none" stroke-width="2.4"/>
<line x1="79.8" y1="841.75" x2="86.3" y2="841.75" stroke-width="2.3" />
<text transform="translate(71.3 848.15) scale(1 1.04)" font-size="17.5" text-anchor="end" letter-spacing="1.1" >0</text>
<line x1="79.8" y1="770.13" x2="86.3" y2="770.13" stroke-width="2.3" />
<text transform="translate(71.3 776.53) scale(1 1.04)" font-size="17.5" text-anchor="end" letter-spacing="1.1" >5</text>
<line x1="79.8" y1="698.51" x2="86.3" y2="698.51" stroke-width="2.3" />
<text transform="translate(71.3 704.91) scale(1 1.04)" font-size="17.5" text-anchor="end" letter-spacing="1.1" >10</text>
<line x1="79.8" y1="626.89" x2="86.3" y2="626.89" stroke-width="2.3" />
<text transform="translate(71.3 633.29) scale(1 1.04)" font-size="17.5" text-anchor="end" letter-spacing="1.1" >15</text>
<line x1="79.8" y1="555.27" x2="86.3" y2="555.27" stroke-width="2.3" />
<text transform="translate(71.3 561.67) scale(1 1.04)" font-size="17.5" text-anchor="end" letter-spacing="1.1" >20</text>
<line x1="79.8" y1="483.65" x2="86.3" y2="483.65" stroke-width="2.3" />
<text transform="translate(71.3 490.05) scale(1 1.04)" font-size="17.5" text-anchor="end" letter-spacing="1.1" >25</text>
<line x1="103.6" y1="848.8" x2="103.6" y2="855.3" stroke-width="2.3" />
<text transform="translate(104.2 882.3) scale(1 1.04)" font-size="17.5" text-anchor="middle" letter-spacing="1.1" >0</text>
<line x1="173.6" y1="848.8" x2="173.6" y2="855.3" stroke-width="2.3" />
<text transform="translate(174.2 882.3) scale(1 1.04)" font-size="17.5" text-anchor="middle" letter-spacing="1.1" >2</text>
<line x1="243.6" y1="848.8" x2="243.6" y2="855.3" stroke-width="2.3" />
<text transform="translate(244.2 882.3) scale(1 1.04)" font-size="17.5" text-anchor="middle" letter-spacing="1.1" >4</text>
<line x1="313.6" y1="848.8" x2="313.6" y2="855.3" stroke-width="2.3" />
<text transform="translate(314.2 882.3) scale(1 1.04)" font-size="17.5" text-anchor="middle" letter-spacing="1.1" >6</text>
<line x1="383.6" y1="848.8" x2="383.6" y2="855.3" stroke-width="2.3" />
<text transform="translate(384.2 882.3) scale(1 1.04)" font-size="17.5" text-anchor="middle" letter-spacing="1.1" >8</text>
<line x1="453.6" y1="848.8" x2="453.6" y2="855.3" stroke-width="2.3" />
<text transform="translate(454.2 882.3) scale(1 1.04)" font-size="17.5" text-anchor="middle" letter-spacing="1.1" >10</text>
<line x1="523.6" y1="848.8" x2="523.6" y2="855.3" stroke-width="2.3" />
<text transform="translate(524.2 882.3) scale(1 1.04)" font-size="17.5" text-anchor="middle" letter-spacing="1.1" >12</text>
<line x1="593.6" y1="848.8" x2="593.6" y2="855.3" stroke-width="2.3" />
<text transform="translate(594.2 882.3) scale(1 1.04)" font-size="17.5" text-anchor="middle" letter-spacing="1.1" >14</text>
<path d="M113.68 750.33V760.64M107.28 750.33H120.08M107.28 760.64H120.08" stroke-width="2.1" fill="none"/>
<path d="M121.1 729.45V745.2M114.7 729.45H127.5M114.7 745.2H127.5" stroke-width="2.1" fill="none"/>
<path d="M128.35 728.45V742.77M121.95 728.45H134.75M121.95 742.77H134.75" stroke-width="2.1" fill="none"/>
<path d="M138.6 714.86V732.91M132.2 714.86H145M132.2 732.91H145" stroke-width="2.1" fill="none"/>
<path d="M153.1 707.57V725.61M146.7 707.57H159.5M146.7 725.61H159.5" stroke-width="2.1" fill="none"/>
<path d="M173.6 712.15V717.88M167.2 712.15H180M167.2 717.88H180" stroke-width="2.1" fill="none"/>
<path d="M202.59 696.71V705.01M196.19 696.71H208.99M196.19 705.01H208.99" stroke-width="2.1" fill="none"/>
<path d="M224.84 686.54V707.46M218.44 686.54H231.24M218.44 707.46H231.24" stroke-width="2.1" fill="none"/>
<path d="M275.06 687.41V693.72M268.66 687.41H281.46M268.66 693.72H281.46" stroke-width="2.1" fill="none"/>
<path d="M346.09 665.81V681.57M339.69 665.81H352.49M339.69 681.57H352.49" stroke-width="2.1" fill="none"/>
<path d="M400.58 654.23V671.42M394.18 654.23H406.98M394.18 671.42H406.98" stroke-width="2.1" fill="none"/>
<path d="M446.53 656.66V672.42M440.13 656.66H452.93M440.13 672.42H452.93" stroke-width="2.1" fill="none"/>
<path d="M487.01 652.8V663.69M480.61 652.8H493.41M480.61 663.69H493.41" stroke-width="2.1" fill="none"/>
<path d="M523.6 644.93V661.84M517.2 644.93H530M517.2 661.84H530" stroke-width="2.1" fill="none"/>
<path d="M557.25 621.6V662M550.85 621.6H563.65M550.85 662H563.65" stroke-width="2.1" fill="none"/>
<circle cx="113.68" cy="755.49" r="4.95" fill="#000" stroke="none"/>
<circle cx="121.1" cy="737.33" r="4.95" fill="#000" stroke="none"/>
<circle cx="128.35" cy="735.61" r="4.95" fill="#000" stroke="none"/>
<circle cx="138.6" cy="723.88" r="4.95" fill="#000" stroke="none"/>
<circle cx="153.1" cy="716.59" r="4.95" fill="#000" stroke="none"/>
<circle cx="173.6" cy="715.02" r="4.95" fill="#000" stroke="none"/>
<circle cx="202.59" cy="700.86" r="4.95" fill="#000" stroke="none"/>
<circle cx="224.84" cy="697" r="4.95" fill="#000" stroke="none"/>
<circle cx="275.06" cy="690.56" r="4.95" fill="#000" stroke="none"/>
<circle cx="346.09" cy="673.69" r="4.95" fill="#000" stroke="none"/>
<circle cx="400.58" cy="662.82" r="4.95" fill="#000" stroke="none"/>
<circle cx="446.53" cy="664.54" r="4.95" fill="#000" stroke="none"/>
<circle cx="487.01" cy="658.25" r="4.95" fill="#000" stroke="none"/>
<circle cx="523.6" cy="653.38" r="4.95" fill="#000" stroke="none"/>
<circle cx="557.25" cy="641.8" r="4.95" fill="#000" stroke="none"/>
<path d="M113.68 729.59V745.63M107.28 729.59H120.08M107.28 745.63H120.08" stroke-width="2.1" fill="none"/>
<path d="M121.1 686.84V698.58M114.7 686.84H127.5M114.7 698.58H127.5" stroke-width="2.1" fill="none"/>
<path d="M128.35 681.83V699.02M121.95 681.83H134.75M121.95 699.02H134.75" stroke-width="2.1" fill="none"/>
<path d="M138.6 655.37V671.99M132.2 655.37H145M132.2 671.99H145" stroke-width="2.1" fill="none"/>
<path d="M153.1 642.07V661.55M146.7 642.07H159.5M146.7 661.55H159.5" stroke-width="2.1" fill="none"/>
<path d="M173.6 630.36V636.94M167.2 630.36H180M167.2 636.94H180" stroke-width="2.1" fill="none"/>
<path d="M202.59 584.86V620.67M196.19 584.86H208.99M196.19 620.67H208.99" stroke-width="2.1" fill="none"/>
<path d="M224.84 604.76V611.92M218.44 604.76H231.24M218.44 611.92H231.24" stroke-width="2.1" fill="none"/>
<path d="M275.06 571.13V600.93M268.66 571.13H281.46M268.66 600.93H281.46" stroke-width="2.1" fill="none"/>
<path d="M346.09 553.13V560.87M339.69 553.13H352.49M339.69 560.87H352.49" stroke-width="2.1" fill="none"/>
<path d="M400.58 536.67V563.89M394.18 536.67H406.98M394.18 563.89H406.98" stroke-width="2.1" fill="none"/>
<path d="M446.53 527.25V531.84M440.13 527.25H452.93M440.13 531.84H452.93" stroke-width="2.1" fill="none"/>
<path d="M487.01 527.24V553.02M480.61 527.24H493.41M480.61 553.02H493.41" stroke-width="2.1" fill="none"/>
<path d="M523.6 517.52V529.84M517.2 517.52H530M517.2 529.84H530" stroke-width="2.1" fill="none"/>
<path d="M557.25 530.25V543.14M550.85 530.25H563.65M550.85 543.14H563.65" stroke-width="2.1" fill="none"/>
<circle cx="113.68" cy="737.61" r="4.25" fill="#fff" stroke-width="1.5"/>
<circle cx="121.1" cy="692.71" r="4.25" fill="#fff" stroke-width="1.5"/>
<circle cx="128.35" cy="690.42" r="4.25" fill="#fff" stroke-width="1.5"/>
<circle cx="138.6" cy="663.68" r="4.25" fill="#fff" stroke-width="1.5"/>
<circle cx="153.1" cy="651.81" r="4.25" fill="#fff" stroke-width="1.5"/>
<circle cx="173.6" cy="633.65" r="4.25" fill="#fff" stroke-width="1.5"/>
<circle cx="202.59" cy="602.76" r="4.25" fill="#fff" stroke-width="1.5"/>
<circle cx="224.84" cy="608.34" r="4.25" fill="#fff" stroke-width="1.5"/>
<circle cx="275.06" cy="586.03" r="4.25" fill="#fff" stroke-width="1.5"/>
<circle cx="346.09" cy="557" r="4.25" fill="#fff" stroke-width="1.5"/>
<circle cx="400.58" cy="550.28" r="4.25" fill="#fff" stroke-width="1.5"/>
<circle cx="446.53" cy="529.55" r="4.25" fill="#fff" stroke-width="1.5"/>
<circle cx="487.01" cy="540.13" r="4.25" fill="#fff" stroke-width="1.5"/>
<circle cx="523.6" cy="523.68" r="4.25" fill="#fff" stroke-width="1.5"/>
<circle cx="557.25" cy="536.7" r="4.25" fill="#fff" stroke-width="1.5"/>
<line x1="113.2" y1="674.8" x2="557.3" y2="500.5" stroke-width="2.5" />
<line x1="121.3" y1="729.76" x2="557.3" y2="638.2" stroke-width="2.5" />
<text x="105.1" y="512.2" font-size="20.5">b</text>
<g transform="translate(26 712) rotate(-90)">
<text transform="scale(1 0.91)" font-size="23" letter-spacing="0.95"><tspan font-style="italic">q</tspan><tspan dy="17.4">t</tspan><tspan dy="-17.4" dx="-3.6" letter-spacing="1.55"> (mg/g)</tspan></text>
</g>
<text transform="translate(267 917) scale(1 1.04)" font-size="23" letter-spacing="1.1">Time, <tspan font-style="italic">t</tspan><tspan font-size="10" dy="-10.5" letter-spacing="0.3">0.5</tspan><tspan dy="10.5"> (</tspan><tspan font-style="italic">t</tspan>, h)</text>
<circle cx="473.2" cy="802.3" r="4.95" fill="#000" stroke="none"/>
<circle cx="473.3" cy="823.8" r="4.28" fill="#fff" stroke-width="1.45"/>
<text transform="translate(502.4 807.4) scale(1 1.04)" font-size="15.3" textLength="47" lengthAdjust="spacing" >BC200</text>
<text transform="translate(502.4 829.2) scale(1 1.04)" font-size="15.3" textLength="63.6" lengthAdjust="spacing" >BCW200</text>
</g>
<g id="panel-c">
<rect x="90.07" y="991" width="508.03" height="364.9" fill="none" stroke-width="2.4"/>
<line x1="83.57" y1="991" x2="90.07" y2="991" stroke-width="2.3" />
<line x1="598.1" y1="991" x2="604.1" y2="991" stroke-width="2.3" />
<text transform="translate(73.97 997.3) scale(1 1.04)" font-size="17.5" text-anchor="end" letter-spacing="0.8" >0.0</text>
<text transform="translate(643.7 997.3) scale(1 1.04)" font-size="17.5" text-anchor="end" letter-spacing="0.8" >0.0</text>
<line x1="83.57" y1="1043.13" x2="90.07" y2="1043.13" stroke-width="2.3" />
<line x1="598.1" y1="1043.13" x2="604.1" y2="1043.13" stroke-width="2.3" />
<text transform="translate(73.97 1049.43) scale(1 1.04)" font-size="17.5" text-anchor="end" letter-spacing="0.8" >-0.5</text>
<text transform="translate(643.7 1049.43) scale(1 1.04)" font-size="17.5" text-anchor="end" letter-spacing="0.8" >-1.0</text>
<line x1="83.57" y1="1095.26" x2="90.07" y2="1095.26" stroke-width="2.3" />
<line x1="598.1" y1="1095.26" x2="604.1" y2="1095.26" stroke-width="2.3" />
<text transform="translate(73.97 1101.56) scale(1 1.04)" font-size="17.5" text-anchor="end" letter-spacing="0.8" >-1.0</text>
<text transform="translate(643.7 1101.56) scale(1 1.04)" font-size="17.5" text-anchor="end" letter-spacing="0.8" >-2.0</text>
<line x1="83.57" y1="1147.39" x2="90.07" y2="1147.39" stroke-width="2.3" />
<line x1="598.1" y1="1147.39" x2="604.1" y2="1147.39" stroke-width="2.3" />
<text transform="translate(73.97 1153.69) scale(1 1.04)" font-size="17.5" text-anchor="end" letter-spacing="0.8" >-1.5</text>
<text transform="translate(643.7 1153.69) scale(1 1.04)" font-size="17.5" text-anchor="end" letter-spacing="0.8" >-3.0</text>
<line x1="83.57" y1="1199.51" x2="90.07" y2="1199.51" stroke-width="2.3" />
<line x1="598.1" y1="1199.51" x2="604.1" y2="1199.51" stroke-width="2.3" />
<text transform="translate(73.97 1205.81) scale(1 1.04)" font-size="17.5" text-anchor="end" letter-spacing="0.8" >-2.0</text>
<text transform="translate(643.7 1205.81) scale(1 1.04)" font-size="17.5" text-anchor="end" letter-spacing="0.8" >-4.0</text>
<line x1="83.57" y1="1251.64" x2="90.07" y2="1251.64" stroke-width="2.3" />
<line x1="598.1" y1="1251.64" x2="604.1" y2="1251.64" stroke-width="2.3" />
<text transform="translate(73.97 1257.94) scale(1 1.04)" font-size="17.5" text-anchor="end" letter-spacing="0.8" >-2.5</text>
<text transform="translate(643.7 1257.94) scale(1 1.04)" font-size="17.5" text-anchor="end" letter-spacing="0.8" >-5.0</text>
<line x1="83.57" y1="1303.77" x2="90.07" y2="1303.77" stroke-width="2.3" />
<line x1="598.1" y1="1303.77" x2="604.1" y2="1303.77" stroke-width="2.3" />
<text transform="translate(73.97 1310.07) scale(1 1.04)" font-size="17.5" text-anchor="end" letter-spacing="0.8" >-3.0</text>
<text transform="translate(643.7 1310.07) scale(1 1.04)" font-size="17.5" text-anchor="end" letter-spacing="0.8" >-6.0</text>
<line x1="83.57" y1="1355.9" x2="90.07" y2="1355.9" stroke-width="2.3" />
<line x1="598.1" y1="1355.9" x2="604.1" y2="1355.9" stroke-width="2.3" />
<text transform="translate(73.97 1362.2) scale(1 1.04)" font-size="17.5" text-anchor="end" letter-spacing="0.8" >-3.5</text>
<text transform="translate(643.7 1362.2) scale(1 1.04)" font-size="17.5" text-anchor="end" letter-spacing="0.8" >-7.0</text>
<line x1="90.07" y1="1355.9" x2="90.07" y2="1362.4" stroke-width="2.3" />
<text transform="translate(90.67 1388.8) scale(1 1.04)" font-size="17.5" text-anchor="middle" letter-spacing="1.1" >0</text>
<line x1="166.17" y1="1355.9" x2="166.17" y2="1362.4" stroke-width="2.3" />
<text transform="translate(166.77 1388.8) scale(1 1.04)" font-size="17.5" text-anchor="middle" letter-spacing="1.1" >12</text>
<line x1="242.28" y1="1355.9" x2="242.28" y2="1362.4" stroke-width="2.3" />
<text transform="translate(242.88 1388.8) scale(1 1.04)" font-size="17.5" text-anchor="middle" letter-spacing="1.1" >24</text>
<line x1="318.38" y1="1355.9" x2="318.38" y2="1362.4" stroke-width="2.3" />
<text transform="translate(318.98 1388.8) scale(1 1.04)" font-size="17.5" text-anchor="middle" letter-spacing="1.1" >36</text>
<line x1="394.49" y1="1355.9" x2="394.49" y2="1362.4" stroke-width="2.3" />
<text transform="translate(395.09 1388.8) scale(1 1.04)" font-size="17.5" text-anchor="middle" letter-spacing="1.1" >48</text>
<line x1="470.59" y1="1355.9" x2="470.59" y2="1362.4" stroke-width="2.3" />
<text transform="translate(471.19 1388.8) scale(1 1.04)" font-size="17.5" text-anchor="middle" letter-spacing="1.1" >60</text>
<line x1="546.69" y1="1355.9" x2="546.69" y2="1362.4" stroke-width="2.3" />
<text transform="translate(547.29 1388.8) scale(1 1.04)" font-size="17.5" text-anchor="middle" letter-spacing="1.1" >72</text>
<path d="M90.6 1049.85V1060.75M84.2 1049.85H97M84.2 1060.75H97" stroke-width="2.1" fill="none"/>
<path d="M91.66 1064.35V1083.65M85.26 1064.35H98.06M85.26 1083.65H98.06" stroke-width="2.1" fill="none"/>
<path d="M93.24 1068.9V1087.5M86.84 1068.9H99.64M86.84 1087.5H99.64" stroke-width="2.1" fill="none"/>
<path d="M96.41 1080.7V1107.9M90.01 1080.7H102.81M90.01 1107.9H102.81" stroke-width="2.1" fill="none"/>
<path d="M102.75 1090.6V1120.4M96.35 1090.6H109.15M96.35 1120.4H109.15" stroke-width="2.1" fill="none"/>
<path d="M115.44 1104V1112M109.04 1104H121.84M109.04 1112H121.84" stroke-width="2.1" fill="none"/>
<path d="M140.81 1127.4V1145.2M134.41 1127.4H147.21M134.41 1145.2H147.21" stroke-width="2.1" fill="none"/>
<path d="M166.17 1122.3V1170.7M159.77 1122.3H172.57M159.77 1170.7H172.57" stroke-width="2.1" fill="none"/>
<path d="M242.28 1154.4V1171.8M235.88 1154.4H248.68M235.88 1171.8H248.68" stroke-width="2.1" fill="none"/>
<path d="M394.49 1191.8V1272.4M388.09 1191.8H400.89M388.09 1272.4H400.89" stroke-width="2.1" fill="none"/>
<path d="M546.69 1232.7V1318.3M540.29 1232.7H553.09M540.29 1318.3H553.09" stroke-width="2.1" fill="none"/>
<circle cx="90.6" cy="1055.3" r="4.95" fill="#000" stroke="none"/>
<circle cx="91.66" cy="1074" r="4.95" fill="#000" stroke="none"/>
<circle cx="93.24" cy="1078.2" r="4.95" fill="#000" stroke="none"/>
<circle cx="96.41" cy="1094.3" r="4.95" fill="#000" stroke="none"/>
<circle cx="102.75" cy="1105.5" r="4.95" fill="#000" stroke="none"/>
<circle cx="115.44" cy="1108" r="4.95" fill="#000" stroke="none"/>
<circle cx="140.81" cy="1136.3" r="4.95" fill="#000" stroke="none"/>
<circle cx="166.17" cy="1146.5" r="4.95" fill="#000" stroke="none"/>
<circle cx="242.28" cy="1163.1" r="4.95" fill="#000" stroke="none"/>
<circle cx="394.49" cy="1232.1" r="4.95" fill="#000" stroke="none"/>
<circle cx="546.69" cy="1275.5" r="4.95" fill="#000" stroke="none"/>
<path d="M90.77 1009.95V1014.15M84.37 1009.95H97.17M84.37 1014.15H97.17" stroke-width="2.1" fill="none"/>
<path d="M93.4 1022.8V1028.4M87 1022.8H99.8M87 1028.4H99.8" stroke-width="2.1" fill="none"/>
<path d="M96.41 1031.4V1038.8M90.01 1031.4H102.81M90.01 1038.8H102.81" stroke-width="2.1" fill="none"/>
<path d="M102.75 1036.7V1044.9M96.35 1036.7H109.15M96.35 1044.9H109.15" stroke-width="2.1" fill="none"/>
<path d="M115.44 1047.8V1051M109.04 1047.8H121.84M109.04 1051H121.84" stroke-width="2.1" fill="none"/>
<path d="M140.81 1056.4V1082.4M134.41 1056.4H147.21M134.41 1082.4H147.21" stroke-width="2.1" fill="none"/>
<path d="M166.17 1061.4V1067.4M159.77 1061.4H172.57M159.77 1067.4H172.57" stroke-width="2.1" fill="none"/>
<path d="M242.28 1070V1097M235.88 1070H248.68M235.88 1097H248.68" stroke-width="2.1" fill="none"/>
<path d="M394.49 1116.9V1132.7M388.09 1116.9H400.89M388.09 1132.7H400.89" stroke-width="2.1" fill="none"/>
<path d="M546.69 1103.2V1204M540.29 1103.2H553.09M540.29 1204H553.09" stroke-width="2.1" fill="none"/>
<circle cx="90.77" cy="1012.05" r="4.25" fill="#fff" stroke-width="1.5"/>
<circle cx="93.4" cy="1025.6" r="4.25" fill="#fff" stroke-width="1.5"/>
<circle cx="96.41" cy="1035.1" r="4.25" fill="#fff" stroke-width="1.5"/>
<circle cx="102.75" cy="1040.8" r="4.25" fill="#fff" stroke-width="1.5"/>
<circle cx="115.44" cy="1049.4" r="4.25" fill="#fff" stroke-width="1.5"/>
<circle cx="140.81" cy="1069.4" r="4.25" fill="#fff" stroke-width="1.5"/>
<circle cx="166.17" cy="1064.4" r="4.25" fill="#fff" stroke-width="1.5"/>
<circle cx="242.28" cy="1083.5" r="4.25" fill="#fff" stroke-width="1.5"/>
<circle cx="394.49" cy="1124.8" r="4.25" fill="#fff" stroke-width="1.5"/>
<circle cx="546.69" cy="1153.6" r="4.25" fill="#fff" stroke-width="1.5"/>
<line x1="91" y1="1033" x2="547" y2="1163" stroke-width="2.4" />
<line x1="91" y1="1090.3" x2="547" y2="1290.2" stroke-width="2.4" />
<text x="117.5" y="1013.6" font-size="19.5">c</text>
<text transform="translate(297.3 1419.8) scale(1 1.04)" font-size="23" textLength="89" lengthAdjust="spacing" >Time (h)</text>
<g transform="translate(24.3 1211.8) rotate(-90)"><text font-size="23" letter-spacing="0.92">ln (1-F)</text></g>
<g transform="translate(680.4 1211.8) rotate(-90)"><text font-size="23" letter-spacing="0.92">ln (1-F)</text></g>
<circle cx="115.6" cy="1205.5" r="4.8" fill="#000" stroke="none"/>
<text transform="translate(139.9 1210.7) scale(1 1.04)" font-size="13" textLength="40.2" lengthAdjust="spacing" class="hv">BC200</text>
<path d="M151 1223.5H99.6M123.7 1216.9L99.4 1223.5L123.7 1230.2" fill="none" stroke-width="2.1" stroke-linejoin="round" stroke-linecap="round"/>
<circle cx="483.9" cy="1035.5" r="4.05" fill="#fff" stroke-width="1.5"/>
<text transform="translate(508.4 1040.7) scale(1 1.04)" font-size="13" textLength="53.2" lengthAdjust="spacing" class="hv">BCW200</text>
<path d="M544 1046.8H591.4M566.7 1040.1L591.6 1046.8L566.7 1053.4" fill="none" stroke-width="2.1" stroke-linejoin="round" stroke-linecap="round"/>
</g>
</svg>
</body>
</html>
